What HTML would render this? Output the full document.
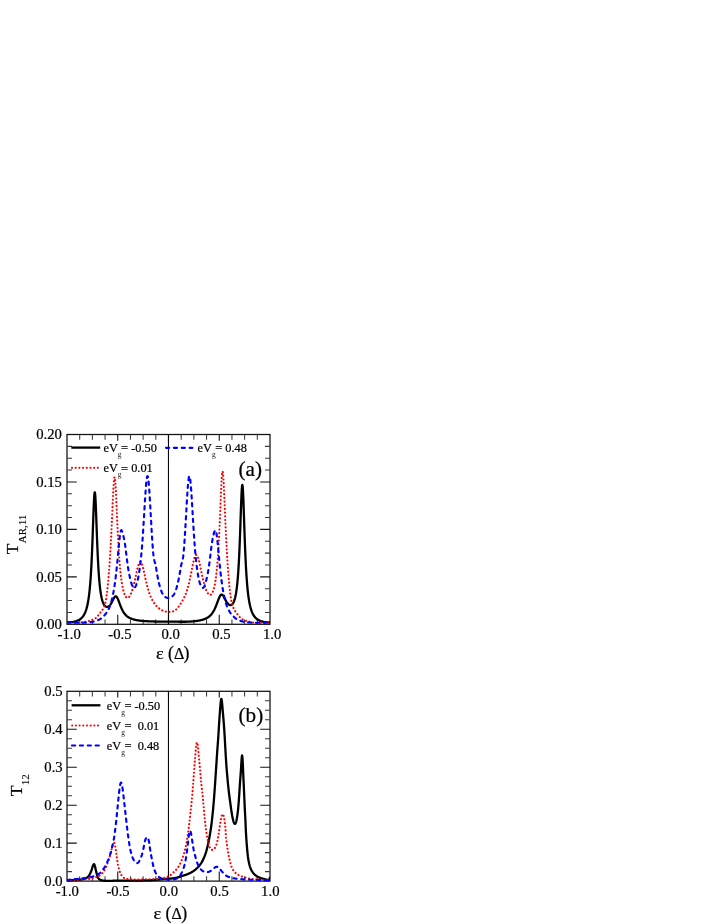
<!DOCTYPE html>
<html lang="en"><head><meta charset="utf-8"><title>Transmission plots</title>
<style>html,body{margin:0;padding:0;background:#fff;}body{width:714px;height:924px;overflow:hidden;font-family:"Liberation Serif",serif;}svg{display:block;will-change:transform;}svg text{stroke:#000;stroke-width:0.22px;}</style></head>
<body>
<svg width="714" height="924" viewBox="0 0 714 924" font-family='"Liberation Serif", serif' fill="#000">
<rect width="714" height="924" fill="#fff"/>
<defs><clipPath id="ca"><rect x="67.00" y="434.50" width="203.00" height="191.00"/></clipPath><clipPath id="cb"><rect x="67.00" y="691.30" width="203.00" height="191.00"/></clipPath></defs>
<!-- plot a -->
<rect x="67.00" y="434.50" width="203.00" height="189.80" fill="none" stroke="#111" stroke-width="1.25"/>
<path d="M79.69 624.30 V619.50 M79.69 434.50 V439.70 M92.38 624.30 V619.50 M92.38 434.50 V439.70 M105.06 624.30 V619.50 M105.06 434.50 V439.70 M130.44 624.30 V619.50 M130.44 434.50 V439.70 M143.12 624.30 V619.50 M143.12 434.50 V439.70 M155.81 624.30 V619.50 M155.81 434.50 V439.70 M181.19 624.30 V619.50 M181.19 434.50 V439.70 M193.88 624.30 V619.50 M193.88 434.50 V439.70 M206.56 624.30 V619.50 M206.56 434.50 V439.70 M231.94 624.30 V619.50 M231.94 434.50 V439.70 M244.62 624.30 V619.50 M244.62 434.50 V439.70 M257.31 624.30 V619.50 M257.31 434.50 V439.70 M67.00 612.44 H72.00 M270.00 612.44 H265.00 M67.00 600.57 H72.00 M270.00 600.57 H265.00 M67.00 588.71 H72.00 M270.00 588.71 H265.00 M67.00 564.99 H72.00 M270.00 564.99 H265.00 M67.00 553.12 H72.00 M270.00 553.12 H265.00 M67.00 541.26 H72.00 M270.00 541.26 H265.00 M67.00 517.54 H72.00 M270.00 517.54 H265.00 M67.00 505.67 H72.00 M270.00 505.67 H265.00 M67.00 493.81 H72.00 M270.00 493.81 H265.00 M67.00 470.09 H72.00 M270.00 470.09 H265.00 M67.00 458.23 H72.00 M270.00 458.23 H265.00 M67.00 446.36 H72.00 M270.00 446.36 H265.00" stroke="#3a3a3a" stroke-width="1.05" fill="none"/>
<path d="M117.75 624.30 V614.80 M117.75 434.50 V440.80 M168.50 624.30 V614.80 M168.50 434.50 V440.80 M219.25 624.30 V614.80 M219.25 434.50 V440.80 M67.00 576.85 H76.80 M270.00 576.85 H260.20 M67.00 529.40 H76.80 M270.00 529.40 H260.20 M67.00 481.95 H76.80 M270.00 481.95 H260.20" stroke="#141414" stroke-width="1.1" fill="none"/>
<path d="M168.45 434.50 V624.30" stroke="#000" stroke-width="1.05" fill="none"/>
<g clip-path="url(#ca)">
<path d="M67.00 622.37 L67.25 622.37 L67.51 622.38 L67.76 622.38 L68.02 622.38 L68.27 622.38 L68.52 622.37 L68.78 622.37 L69.03 622.36 L69.28 622.35 L69.54 622.34 L69.79 622.33 L70.05 622.31 L70.30 622.29 L70.55 622.27 L70.81 622.25 L71.06 622.22 L71.31 622.20 L71.57 622.17 L71.82 622.14 L72.08 622.10 L72.33 622.07 L72.58 622.03 L72.84 621.99 L73.09 621.94 L73.34 621.89 L73.60 621.84 L73.85 621.79 L74.11 621.74 L74.36 621.68 L74.61 621.61 L74.87 621.55 L75.12 621.48 L75.37 621.41 L75.63 621.33 L75.88 621.25 L76.13 621.17 L76.39 621.08 L76.64 620.99 L76.90 620.89 L77.15 620.79 L77.40 620.69 L77.66 620.57 L77.91 620.46 L78.16 620.34 L78.42 620.21 L78.67 620.07 L78.93 619.93 L79.18 619.79 L79.43 619.63 L79.69 619.47 L79.94 619.30 L80.19 619.12 L80.45 618.93 L80.70 618.73 L80.96 618.52 L81.21 618.30 L81.46 618.07 L81.72 617.82 L81.97 617.56 L82.22 617.28 L82.48 616.99 L82.73 616.67 L82.99 616.34 L83.24 615.99 L83.49 615.61 L83.75 615.21 L84.00 614.78 L84.25 614.33 L84.51 613.84 L84.76 613.32 L85.02 612.77 L85.27 612.18 L85.52 611.55 L85.78 610.87 L86.03 610.14 L86.28 609.36 L86.54 608.52 L86.79 607.61 L87.05 606.63 L87.30 605.56 L87.55 604.41 L87.81 603.16 L88.06 601.81 L88.31 600.33 L88.57 598.71 L88.82 596.94 L89.08 595.01 L89.33 592.89 L89.58 590.55 L89.84 587.99 L90.09 585.16 L90.34 582.04 L90.60 578.60 L90.85 574.80 L91.11 570.62 L91.36 566.01 L91.61 560.97 L91.87 555.46 L92.12 549.49 L92.38 543.08 L92.63 536.29 L92.88 529.22 L93.14 522.04 L93.39 514.96 L93.64 508.27 L93.90 502.32 L94.15 497.46 L94.41 494.05 L94.66 492.32 L94.91 492.43 L95.17 494.36 L95.42 497.94 L95.67 502.88 L95.93 508.85 L96.18 515.48 L96.44 522.44 L96.69 529.45 L96.94 536.30 L97.20 542.85 L97.45 549.00 L97.70 554.70 L97.96 559.93 L98.21 564.71 L98.47 569.04 L98.72 572.96 L98.97 576.49 L99.23 579.68 L99.48 582.55 L99.73 585.13 L99.99 587.45 L100.24 589.55 L100.50 591.43 L100.75 593.13 L101.00 594.66 L101.26 596.05 L101.51 597.29 L101.76 598.42 L102.02 599.44 L102.27 600.36 L102.53 601.19 L102.78 601.94 L103.03 602.61 L103.29 603.22 L103.54 603.76 L103.79 604.25 L104.05 604.69 L104.30 605.08 L104.56 605.42 L104.81 605.72 L105.06 605.98 L105.32 606.21 L105.57 606.40 L105.82 606.55 L106.08 606.68 L106.33 606.77 L106.59 606.84 L106.84 606.88 L107.09 606.89 L107.35 606.88 L107.60 606.84 L107.85 606.77 L108.11 606.68 L108.36 606.55 L108.62 606.40 L108.87 606.23 L109.12 606.02 L109.38 605.79 L109.63 605.53 L109.88 605.25 L110.14 604.93 L110.39 604.59 L110.64 604.22 L110.90 603.82 L111.15 603.40 L111.41 602.96 L111.66 602.50 L111.91 602.02 L112.17 601.52 L112.42 601.01 L112.67 600.50 L112.93 599.98 L113.18 599.47 L113.44 598.98 L113.69 598.50 L113.94 598.05 L114.20 597.64 L114.45 597.27 L114.70 596.96 L114.96 596.70 L115.21 596.52 L115.47 596.40 L115.72 596.36 L115.97 596.39 L116.23 596.51 L116.48 596.71 L116.73 596.98 L116.99 597.34 L117.24 597.75 L117.50 598.24 L117.75 598.77 L118.00 599.35 L118.26 599.97 L118.51 600.61 L118.77 601.28 L119.02 601.97 L119.27 602.66 L119.53 603.35 L119.78 604.03 L120.03 604.71 L120.29 605.38 L120.54 606.04 L120.80 606.67 L121.05 607.29 L121.30 607.88 L121.56 608.46 L121.81 609.01 L122.06 609.54 L122.32 610.05 L122.57 610.54 L122.83 611.01 L123.08 611.45 L123.33 611.88 L123.59 612.28 L123.84 612.67 L124.09 613.04 L124.35 613.39 L124.60 613.72 L124.86 614.04 L125.11 614.35 L125.36 614.63 L125.62 614.91 L125.87 615.17 L126.12 615.42 L126.38 615.66 L126.63 615.89 L126.88 616.11 L127.14 616.31 L127.39 616.51 L127.65 616.70 L127.90 616.88 L128.15 617.05 L128.41 617.22 L128.66 617.38 L128.91 617.53 L129.17 617.67 L129.42 617.81 L129.68 617.94 L129.93 618.07 L130.18 618.19 L130.44 618.31 L130.69 618.42 L130.94 618.53 L131.20 618.64 L131.45 618.74 L131.71 618.83 L131.96 618.92 L132.21 619.01 L132.47 619.10 L132.72 619.18 L132.98 619.26 L133.23 619.33 L133.48 619.41 L133.74 619.48 L133.99 619.55 L134.24 619.61 L134.50 619.68 L134.75 619.74 L135.00 619.80 L135.26 619.85 L135.51 619.91 L135.77 619.96 L136.02 620.01 L136.27 620.06 L136.53 620.11 L136.78 620.16 L137.04 620.20 L137.29 620.25 L137.54 620.29 L137.80 620.33 L138.05 620.37 L138.30 620.41 L138.56 620.45 L138.81 620.48 L139.06 620.52 L139.32 620.55 L139.57 620.59 L139.83 620.62 L140.08 620.65 L140.33 620.68 L140.59 620.71 L140.84 620.74 L141.09 620.76 L141.35 620.79 L141.60 620.82 L141.86 620.84 L142.11 620.86 L142.36 620.89 L142.62 620.91 L142.87 620.93 L143.12 620.96 L143.38 620.98 L143.63 621.00 L143.89 621.02 L144.14 621.04 L144.39 621.05 L144.65 621.07 L144.90 621.09 L145.16 621.11 L145.41 621.12 L145.66 621.14 L145.92 621.16 L146.17 621.17 L146.42 621.19 L146.68 621.20 L146.93 621.22 L147.19 621.23 L147.44 621.24 L147.69 621.26 L147.95 621.27 L148.20 621.28 L148.45 621.29 L148.71 621.31 L148.96 621.32 L149.22 621.33 L149.47 621.34 L149.72 621.35 L149.98 621.36 L150.23 621.37 L150.48 621.38 L150.74 621.39 L150.99 621.40 L151.25 621.40 L151.50 621.41 L151.75 621.42 L152.01 621.43 L152.26 621.44 L152.51 621.44 L152.77 621.45 L153.02 621.46 L153.27 621.47 L153.53 621.47 L153.78 621.48 L154.04 621.49 L154.29 621.49 L154.54 621.50 L154.80 621.50 L155.05 621.51 L155.31 621.51 L155.56 621.52 L155.81 621.52 L156.07 621.53 L156.32 621.53 L156.57 621.54 L156.83 621.54 L157.08 621.55 L157.34 621.55 L157.59 621.55 L157.84 621.56 L158.10 621.56 L158.35 621.57 L158.60 621.57 L158.86 621.57 L159.11 621.58 L159.37 621.58 L159.62 621.58 L159.87 621.58 L160.13 621.59 L160.38 621.59 L160.63 621.59 L160.89 621.59 L161.14 621.60 L161.40 621.60 L161.65 621.60 L161.90 621.60 L162.16 621.60 L162.41 621.60 L162.66 621.61 L162.92 621.61 L163.17 621.61 L163.43 621.61 L163.68 621.61 L163.93 621.61 L164.19 621.61 L164.44 621.61 L164.69 621.61 L164.95 621.61 L165.20 621.61 L165.45 621.61 L165.71 621.61 L165.96 621.61 L166.22 621.61 L166.47 621.61 L166.72 621.61 L166.98 621.61 L167.23 621.61 L167.49 621.61 L167.74 621.61 L167.99 621.61 L168.25 621.61 L168.50 621.61 L168.75 621.61 L169.01 621.61 L169.26 621.61 L169.51 621.61 L169.77 621.61 L170.02 621.61 L170.28 621.61 L170.53 621.61 L170.78 621.61 L171.04 621.62 L171.29 621.62 L171.55 621.62 L171.80 621.62 L172.05 621.63 L172.31 621.63 L172.56 621.63 L172.81 621.63 L173.07 621.64 L173.32 621.64 L173.57 621.64 L173.83 621.65 L174.08 621.65 L174.34 621.66 L174.59 621.66 L174.84 621.66 L175.10 621.67 L175.35 621.67 L175.61 621.68 L175.86 621.68 L176.11 621.69 L176.37 621.69 L176.62 621.69 L176.87 621.70 L177.13 621.70 L177.38 621.71 L177.63 621.71 L177.89 621.71 L178.14 621.72 L178.40 621.72 L178.65 621.73 L178.90 621.73 L179.16 621.73 L179.41 621.74 L179.67 621.74 L179.92 621.74 L180.17 621.75 L180.43 621.75 L180.68 621.75 L180.93 621.75 L181.19 621.76 L181.44 621.76 L181.69 621.76 L181.95 621.76 L182.20 621.76 L182.46 621.76 L182.71 621.76 L182.96 621.76 L183.22 621.76 L183.47 621.76 L183.73 621.76 L183.98 621.76 L184.23 621.76 L184.49 621.76 L184.74 621.75 L184.99 621.75 L185.25 621.75 L185.50 621.74 L185.75 621.74 L186.01 621.73 L186.26 621.73 L186.52 621.72 L186.77 621.71 L187.02 621.71 L187.28 621.70 L187.53 621.69 L187.78 621.68 L188.04 621.67 L188.29 621.66 L188.55 621.65 L188.80 621.64 L189.05 621.62 L189.31 621.61 L189.56 621.60 L189.81 621.58 L190.07 621.57 L190.32 621.55 L190.58 621.54 L190.83 621.52 L191.08 621.50 L191.34 621.48 L191.59 621.47 L191.84 621.45 L192.10 621.43 L192.35 621.41 L192.61 621.39 L192.86 621.37 L193.11 621.35 L193.37 621.32 L193.62 621.30 L193.88 621.28 L194.13 621.25 L194.38 621.23 L194.64 621.20 L194.89 621.17 L195.14 621.15 L195.40 621.12 L195.65 621.09 L195.91 621.06 L196.16 621.03 L196.41 620.99 L196.67 620.96 L196.92 620.92 L197.17 620.89 L197.43 620.85 L197.68 620.81 L197.94 620.77 L198.19 620.73 L198.44 620.69 L198.70 620.65 L198.95 620.60 L199.20 620.56 L199.46 620.51 L199.71 620.46 L199.97 620.41 L200.22 620.35 L200.47 620.30 L200.73 620.24 L200.98 620.18 L201.23 620.12 L201.49 620.06 L201.74 619.99 L202.00 619.92 L202.25 619.85 L202.50 619.78 L202.76 619.71 L203.01 619.63 L203.26 619.55 L203.52 619.46 L203.77 619.38 L204.03 619.29 L204.28 619.19 L204.53 619.09 L204.79 618.99 L205.04 618.89 L205.29 618.78 L205.55 618.67 L205.80 618.55 L206.06 618.43 L206.31 618.30 L206.56 618.17 L206.82 618.03 L207.07 617.89 L207.32 617.74 L207.58 617.58 L207.83 617.42 L208.09 617.25 L208.34 617.07 L208.59 616.89 L208.85 616.70 L209.10 616.50 L209.35 616.29 L209.61 616.07 L209.86 615.85 L210.11 615.61 L210.37 615.36 L210.62 615.10 L210.88 614.83 L211.13 614.55 L211.38 614.25 L211.64 613.94 L211.89 613.62 L212.14 613.28 L212.40 612.93 L212.65 612.56 L212.91 612.18 L213.16 611.77 L213.41 611.35 L213.67 610.92 L213.92 610.46 L214.17 609.98 L214.43 609.49 L214.68 608.97 L214.94 608.44 L215.19 607.88 L215.44 607.31 L215.70 606.71 L215.95 606.10 L216.20 605.47 L216.46 604.82 L216.71 604.16 L216.97 603.48 L217.22 602.80 L217.47 602.11 L217.73 601.42 L217.98 600.73 L218.23 600.05 L218.49 599.38 L218.74 598.72 L219.00 598.10 L219.25 597.50 L219.50 596.94 L219.76 596.43 L220.01 595.97 L220.27 595.56 L220.52 595.22 L220.77 594.94 L221.03 594.74 L221.28 594.61 L221.53 594.55 L221.79 594.56 L222.04 594.64 L222.30 594.78 L222.55 594.99 L222.80 595.25 L223.06 595.57 L223.31 595.93 L223.56 596.32 L223.82 596.75 L224.07 597.21 L224.33 597.68 L224.58 598.16 L224.83 598.66 L225.09 599.15 L225.34 599.63 L225.59 600.11 L225.85 600.58 L226.10 601.04 L226.36 601.47 L226.61 601.89 L226.86 602.28 L227.12 602.66 L227.37 603.00 L227.62 603.33 L227.88 603.62 L228.13 603.90 L228.39 604.14 L228.64 604.36 L228.89 604.55 L229.15 604.72 L229.40 604.85 L229.65 604.96 L229.91 605.05 L230.16 605.10 L230.42 605.12 L230.67 605.12 L230.92 605.07 L231.18 605.00 L231.43 604.89 L231.68 604.74 L231.94 604.56 L232.19 604.33 L232.45 604.06 L232.70 603.75 L232.95 603.38 L233.21 602.97 L233.46 602.50 L233.71 601.97 L233.97 601.37 L234.22 600.71 L234.48 599.97 L234.73 599.14 L234.98 598.22 L235.24 597.20 L235.49 596.07 L235.74 594.82 L236.00 593.42 L236.25 591.88 L236.50 590.17 L236.76 588.27 L237.01 586.16 L237.27 583.81 L237.52 581.21 L237.77 578.31 L238.03 575.10 L238.28 571.53 L238.53 567.57 L238.79 563.18 L239.04 558.35 L239.30 553.03 L239.55 547.23 L239.80 540.94 L240.06 534.21 L240.31 527.11 L240.56 519.78 L240.82 512.40 L241.07 505.25 L241.33 498.65 L241.58 492.97 L241.83 488.60 L242.09 485.85 L242.34 484.96 L242.59 486.02 L242.85 488.93 L243.10 493.48 L243.36 499.33 L243.61 506.10 L243.86 513.43 L244.12 520.98 L244.37 528.50 L244.62 535.78 L244.88 542.70 L245.13 549.18 L245.39 555.18 L245.64 560.69 L245.89 565.72 L246.15 570.30 L246.40 574.47 L246.66 578.24 L246.91 581.67 L247.16 584.77 L247.42 587.59 L247.67 590.15 L247.92 592.48 L248.18 594.60 L248.43 596.54 L248.69 598.31 L248.94 599.94 L249.19 601.43 L249.45 602.80 L249.70 604.06 L249.95 605.22 L250.21 606.30 L250.46 607.30 L250.72 608.22 L250.97 609.08 L251.22 609.88 L251.48 610.62 L251.73 611.32 L251.98 611.96 L252.24 612.57 L252.49 613.14 L252.75 613.67 L253.00 614.17 L253.25 614.64 L253.51 615.08 L253.76 615.49 L254.01 615.88 L254.27 616.24 L254.52 616.59 L254.78 616.91 L255.03 617.21 L255.28 617.50 L255.54 617.77 L255.79 618.02 L256.04 618.26 L256.30 618.48 L256.55 618.70 L256.81 618.90 L257.06 619.10 L257.31 619.28 L257.57 619.46 L257.82 619.63 L258.07 619.79 L258.33 619.94 L258.58 620.08 L258.84 620.22 L259.09 620.35 L259.34 620.48 L259.60 620.60 L259.85 620.72 L260.10 620.83 L260.36 620.93 L260.61 621.03 L260.87 621.12 L261.12 621.21 L261.37 621.30 L261.63 621.38 L261.88 621.46 L262.13 621.53 L262.39 621.60 L262.64 621.67 L262.89 621.73 L263.15 621.79 L263.40 621.85 L263.66 621.90 L263.91 621.95 L264.16 622.00 L264.42 622.04 L264.67 622.09 L264.92 622.12 L265.18 622.16 L265.43 622.19 L265.69 622.22 L265.94 622.25 L266.19 622.28 L266.45 622.30 L266.70 622.32 L266.95 622.34 L267.21 622.35 L267.46 622.36 L267.72 622.37 L267.97 622.38 L268.22 622.39 L268.48 622.39 L268.73 622.39 L268.99 622.39 L269.24 622.39 L269.49 622.38 L269.75 622.38 L270.00 622.37" stroke="#000" stroke-width="2.3" fill="none" stroke-linejoin="round"/>
<path d="M67.00 622.40 L67.25 622.43 L67.51 622.46 L67.76 622.49 L68.02 622.51 L68.27 622.53 L68.52 622.56 L68.78 622.58 L69.03 622.60 L69.28 622.62 L69.54 622.64 L69.79 622.66 L70.05 622.67 L70.30 622.69 L70.55 622.71 L70.81 622.72 L71.06 622.73 L71.31 622.75 L71.57 622.76 L71.82 622.77 L72.08 622.78 L72.33 622.79 L72.58 622.79 L72.84 622.80 L73.09 622.81 L73.34 622.81 L73.60 622.81 L73.85 622.82 L74.11 622.82 L74.36 622.82 L74.61 622.82 L74.87 622.82 L75.12 622.82 L75.37 622.82 L75.63 622.81 L75.88 622.81 L76.13 622.80 L76.39 622.79 L76.64 622.79 L76.90 622.78 L77.15 622.77 L77.40 622.76 L77.66 622.75 L77.91 622.73 L78.16 622.72 L78.42 622.71 L78.67 622.69 L78.93 622.67 L79.18 622.66 L79.43 622.64 L79.69 622.62 L79.94 622.60 L80.19 622.58 L80.45 622.55 L80.70 622.53 L80.96 622.51 L81.21 622.48 L81.46 622.45 L81.72 622.42 L81.97 622.39 L82.22 622.36 L82.48 622.33 L82.73 622.30 L82.99 622.27 L83.24 622.23 L83.49 622.19 L83.75 622.16 L84.00 622.12 L84.25 622.08 L84.51 622.04 L84.76 621.99 L85.02 621.95 L85.27 621.90 L85.52 621.86 L85.78 621.81 L86.03 621.76 L86.28 621.71 L86.54 621.65 L86.79 621.60 L87.05 621.54 L87.30 621.48 L87.55 621.42 L87.81 621.36 L88.06 621.30 L88.31 621.23 L88.57 621.17 L88.82 621.10 L89.08 621.03 L89.33 620.95 L89.58 620.88 L89.84 620.80 L90.09 620.72 L90.34 620.64 L90.60 620.55 L90.85 620.47 L91.11 620.38 L91.36 620.29 L91.61 620.19 L91.87 620.09 L92.12 619.99 L92.38 619.89 L92.63 619.78 L92.88 619.67 L93.14 619.55 L93.39 619.44 L93.64 619.32 L93.90 619.19 L94.15 619.06 L94.41 618.93 L94.66 618.79 L94.91 618.64 L95.17 618.49 L95.42 618.32 L95.67 618.13 L95.93 617.93 L96.18 617.70 L96.44 617.46 L96.69 617.21 L96.94 616.94 L97.20 616.66 L97.45 616.38 L97.70 616.08 L97.96 615.77 L98.21 615.46 L98.47 615.15 L98.72 614.82 L98.97 614.50 L99.23 614.17 L99.48 613.84 L99.73 613.51 L99.99 613.18 L100.24 612.85 L100.50 612.53 L100.75 612.21 L101.00 611.89 L101.26 611.57 L101.51 611.24 L101.76 610.90 L102.02 610.55 L102.27 610.18 L102.53 609.79 L102.78 609.38 L103.03 608.94 L103.29 608.46 L103.54 607.94 L103.79 607.38 L104.05 606.77 L104.30 606.11 L104.56 605.39 L104.81 604.60 L105.06 603.74 L105.32 602.80 L105.57 601.75 L105.82 600.52 L106.08 599.13 L106.33 597.56 L106.59 595.83 L106.84 593.94 L107.09 591.90 L107.35 589.69 L107.60 587.34 L107.85 584.83 L108.11 582.17 L108.36 579.35 L108.62 576.38 L108.87 573.23 L109.12 569.92 L109.38 566.44 L109.63 562.77 L109.88 558.91 L110.14 554.86 L110.39 550.61 L110.64 546.17 L110.90 541.54 L111.15 536.70 L111.41 531.64 L111.66 526.36 L111.91 520.89 L112.17 515.26 L112.42 509.54 L112.67 503.84 L112.93 498.28 L113.18 493.00 L113.44 488.20 L113.69 484.06 L113.94 480.75 L114.20 478.42 L114.45 477.20 L114.70 477.14 L114.96 478.29 L115.21 480.59 L115.47 483.92 L115.72 488.13 L115.97 493.01 L116.23 498.38 L116.48 504.04 L116.73 509.85 L116.99 515.66 L117.24 521.36 L117.50 526.89 L117.75 532.19 L118.00 537.23 L118.26 542.01 L118.51 546.51 L118.77 550.76 L119.02 554.73 L119.27 558.41 L119.53 561.81 L119.78 564.95 L120.03 567.85 L120.29 570.53 L120.54 573.01 L120.80 575.29 L121.05 577.39 L121.30 579.34 L121.56 581.13 L121.81 582.79 L122.06 584.32 L122.32 585.74 L122.57 587.04 L122.83 588.25 L123.08 589.36 L123.33 590.39 L123.59 591.33 L123.84 592.20 L124.09 592.99 L124.35 593.72 L124.60 594.37 L124.86 594.97 L125.11 595.51 L125.36 595.99 L125.62 596.41 L125.87 596.78 L126.12 597.09 L126.38 597.35 L126.63 597.56 L126.88 597.72 L127.14 597.83 L127.39 597.89 L127.65 597.90 L127.90 597.86 L128.15 597.76 L128.41 597.62 L128.66 597.43 L128.91 597.18 L129.17 596.89 L129.42 596.56 L129.68 596.19 L129.93 595.78 L130.18 595.33 L130.44 594.84 L130.69 594.31 L130.94 593.74 L131.20 593.12 L131.45 592.47 L131.71 591.78 L131.96 591.05 L132.21 590.28 L132.47 589.47 L132.72 588.62 L132.98 587.73 L133.23 586.81 L133.48 585.86 L133.74 584.86 L133.99 583.84 L134.24 582.79 L134.50 581.71 L134.75 580.60 L135.00 579.47 L135.26 578.33 L135.51 577.17 L135.77 576.00 L136.02 574.83 L136.27 573.66 L136.53 572.50 L136.78 571.36 L137.04 570.25 L137.29 569.16 L137.54 568.12 L137.80 567.13 L138.05 566.20 L138.30 565.33 L138.56 564.54 L138.81 563.84 L139.06 563.23 L139.32 562.72 L139.57 562.32 L139.83 562.03 L140.08 561.85 L140.33 561.79 L140.59 561.85 L140.84 562.02 L141.09 562.31 L141.35 562.71 L141.60 563.21 L141.86 563.81 L142.11 564.51 L142.36 565.29 L142.62 566.15 L142.87 567.08 L143.12 568.06 L143.38 569.10 L143.63 570.19 L143.89 571.31 L144.14 572.45 L144.39 573.61 L144.65 574.79 L144.90 575.97 L145.16 577.15 L145.41 578.33 L145.66 579.49 L145.92 580.64 L146.17 581.77 L146.42 582.88 L146.68 583.96 L146.93 585.02 L147.19 586.05 L147.44 587.04 L147.69 587.99 L147.95 588.91 L148.20 589.79 L148.45 590.63 L148.71 591.44 L148.96 592.22 L149.22 592.96 L149.47 593.68 L149.72 594.36 L149.98 595.01 L150.23 595.64 L150.48 596.24 L150.74 596.81 L150.99 597.36 L151.25 597.90 L151.50 598.41 L151.75 598.90 L152.01 599.37 L152.26 599.84 L152.51 600.28 L152.77 600.72 L153.02 601.14 L153.27 601.55 L153.53 601.96 L153.78 602.36 L154.04 602.76 L154.29 603.14 L154.54 603.51 L154.80 603.86 L155.05 604.21 L155.31 604.54 L155.56 604.87 L155.81 605.18 L156.07 605.48 L156.32 605.77 L156.57 606.06 L156.83 606.33 L157.08 606.60 L157.34 606.86 L157.59 607.10 L157.84 607.35 L158.10 607.58 L158.35 607.80 L158.60 608.02 L158.86 608.23 L159.11 608.44 L159.37 608.63 L159.62 608.82 L159.87 609.01 L160.13 609.19 L160.38 609.36 L160.63 609.52 L160.89 609.68 L161.14 609.83 L161.40 609.98 L161.65 610.12 L161.90 610.25 L162.16 610.38 L162.41 610.50 L162.66 610.62 L162.92 610.73 L163.17 610.83 L163.43 610.93 L163.68 611.02 L163.93 611.11 L164.19 611.19 L164.44 611.27 L164.69 611.34 L164.95 611.40 L165.20 611.46 L165.45 611.52 L165.71 611.57 L165.96 611.62 L166.22 611.66 L166.47 611.70 L166.72 611.73 L166.98 611.76 L167.23 611.79 L167.49 611.82 L167.74 611.84 L167.99 611.85 L168.25 611.87 L168.50 611.88 L168.75 611.88 L169.01 611.89 L169.26 611.90 L169.51 611.90 L169.77 611.91 L170.02 611.91 L170.28 611.90 L170.53 611.90 L170.78 611.88 L171.04 611.87 L171.29 611.84 L171.55 611.81 L171.80 611.78 L172.05 611.74 L172.31 611.68 L172.56 611.62 L172.81 611.55 L173.07 611.47 L173.32 611.38 L173.57 611.28 L173.83 611.17 L174.08 611.04 L174.34 610.90 L174.59 610.74 L174.84 610.57 L175.10 610.39 L175.35 610.19 L175.61 609.98 L175.86 609.76 L176.11 609.53 L176.37 609.29 L176.62 609.03 L176.87 608.77 L177.13 608.49 L177.38 608.21 L177.63 607.91 L177.89 607.61 L178.14 607.29 L178.40 606.97 L178.65 606.63 L178.90 606.29 L179.16 605.94 L179.41 605.58 L179.67 605.22 L179.92 604.84 L180.17 604.46 L180.43 604.07 L180.68 603.67 L180.93 603.27 L181.19 602.85 L181.44 602.43 L181.69 602.01 L181.95 601.57 L182.20 601.13 L182.46 600.68 L182.71 600.22 L182.96 599.76 L183.22 599.30 L183.47 598.83 L183.73 598.35 L183.98 597.86 L184.23 597.35 L184.49 596.83 L184.74 596.30 L184.99 595.74 L185.25 595.17 L185.50 594.57 L185.75 593.95 L186.01 593.30 L186.26 592.62 L186.52 591.92 L186.77 591.18 L187.02 590.41 L187.28 589.60 L187.53 588.76 L187.78 587.87 L188.04 586.95 L188.29 585.99 L188.55 584.99 L188.80 583.95 L189.05 582.86 L189.31 581.73 L189.56 580.57 L189.81 579.38 L190.07 578.16 L190.32 576.93 L190.58 575.67 L190.83 574.40 L191.08 573.12 L191.34 571.83 L191.59 570.54 L191.84 569.25 L192.10 567.97 L192.35 566.71 L192.61 565.47 L192.86 564.26 L193.11 563.09 L193.37 561.96 L193.62 560.89 L193.88 559.89 L194.13 558.95 L194.38 558.10 L194.64 557.33 L194.89 556.66 L195.14 556.08 L195.40 555.62 L195.65 555.27 L195.91 555.03 L196.16 554.90 L196.41 554.90 L196.67 555.01 L196.92 555.25 L197.17 555.59 L197.43 556.05 L197.68 556.61 L197.94 557.26 L198.19 558.01 L198.44 558.84 L198.70 559.75 L198.95 560.73 L199.20 561.76 L199.46 562.84 L199.71 563.97 L199.97 565.13 L200.22 566.31 L200.47 567.51 L200.73 568.72 L200.98 569.94 L201.23 571.16 L201.49 572.37 L201.74 573.56 L202.00 574.75 L202.25 575.91 L202.50 577.05 L202.76 578.17 L203.01 579.25 L203.26 580.31 L203.52 581.33 L203.77 582.33 L204.03 583.28 L204.28 584.20 L204.53 585.09 L204.79 585.94 L205.04 586.75 L205.29 587.52 L205.55 588.26 L205.80 588.96 L206.06 589.62 L206.31 590.25 L206.56 590.83 L206.82 591.38 L207.07 591.89 L207.32 592.36 L207.58 592.80 L207.83 593.20 L208.09 593.55 L208.34 593.88 L208.59 594.16 L208.85 594.40 L209.10 594.61 L209.35 594.77 L209.61 594.88 L209.86 594.95 L210.11 594.96 L210.37 594.92 L210.62 594.83 L210.88 594.69 L211.13 594.50 L211.38 594.26 L211.64 593.95 L211.89 593.60 L212.14 593.18 L212.40 592.71 L212.65 592.17 L212.91 591.57 L213.16 590.89 L213.41 590.15 L213.67 589.33 L213.92 588.43 L214.17 587.44 L214.43 586.35 L214.68 585.17 L214.94 583.88 L215.19 582.47 L215.44 580.94 L215.70 579.27 L215.95 577.45 L216.20 575.47 L216.46 573.31 L216.71 570.96 L216.97 568.41 L217.22 565.62 L217.47 562.59 L217.73 559.29 L217.98 555.71 L218.23 551.82 L218.49 547.60 L218.74 543.08 L219.00 538.28 L219.25 533.18 L219.50 527.79 L219.76 522.11 L220.01 516.19 L220.27 510.08 L220.52 503.88 L220.77 497.71 L221.03 491.74 L221.28 486.16 L221.53 481.18 L221.79 477.02 L222.04 473.90 L222.30 471.97 L222.55 471.35 L222.80 472.04 L223.06 473.97 L223.31 477.05 L223.56 481.12 L223.82 485.99 L224.07 491.45 L224.33 497.30 L224.58 503.34 L224.83 509.43 L225.09 515.45 L225.34 521.32 L225.59 526.97 L225.85 532.39 L226.10 537.56 L226.36 542.51 L226.61 547.24 L226.86 551.77 L227.12 556.07 L227.37 560.16 L227.62 564.04 L227.88 567.71 L228.13 571.19 L228.39 574.49 L228.64 577.62 L228.89 580.57 L229.15 583.36 L229.40 585.98 L229.65 588.45 L229.91 590.75 L230.16 592.90 L230.42 594.89 L230.67 596.72 L230.92 598.38 L231.18 599.87 L231.43 601.18 L231.68 602.32 L231.94 603.30 L232.19 604.22 L232.45 605.06 L232.70 605.85 L232.95 606.58 L233.21 607.26 L233.46 607.90 L233.71 608.49 L233.97 609.05 L234.22 609.56 L234.48 610.05 L234.73 610.51 L234.98 610.94 L235.24 611.34 L235.49 611.72 L235.74 612.09 L236.00 612.44 L236.25 612.77 L236.50 613.09 L236.76 613.40 L237.01 613.70 L237.27 613.99 L237.52 614.28 L237.77 614.56 L238.03 614.85 L238.28 615.15 L238.53 615.47 L238.79 615.80 L239.04 616.13 L239.30 616.47 L239.55 616.79 L239.80 617.12 L240.06 617.42 L240.31 617.72 L240.56 617.99 L240.82 618.23 L241.07 618.44 L241.33 618.62 L241.58 618.78 L241.83 618.94 L242.09 619.09 L242.34 619.23 L242.59 619.38 L242.85 619.51 L243.10 619.64 L243.36 619.77 L243.61 619.90 L243.86 620.02 L244.12 620.13 L244.37 620.25 L244.62 620.36 L244.88 620.46 L245.13 620.56 L245.39 620.66 L245.64 620.76 L245.89 620.85 L246.15 620.95 L246.40 621.03 L246.66 621.12 L246.91 621.20 L247.16 621.28 L247.42 621.36 L247.67 621.44 L247.92 621.51 L248.18 621.58 L248.43 621.65 L248.69 621.72 L248.94 621.78 L249.19 621.85 L249.45 621.91 L249.70 621.97 L249.95 622.03 L250.21 622.08 L250.46 622.14 L250.72 622.19 L250.97 622.24 L251.22 622.29 L251.48 622.34 L251.73 622.38 L251.98 622.43 L252.24 622.47 L252.49 622.51 L252.75 622.55 L253.00 622.59 L253.25 622.63 L253.51 622.66 L253.76 622.70 L254.01 622.73 L254.27 622.76 L254.52 622.79 L254.78 622.82 L255.03 622.85 L255.28 622.87 L255.54 622.90 L255.79 622.92 L256.04 622.94 L256.30 622.96 L256.55 622.98 L256.81 623.00 L257.06 623.02 L257.31 623.04 L257.57 623.05 L257.82 623.06 L258.07 623.08 L258.33 623.09 L258.58 623.10 L258.84 623.11 L259.09 623.11 L259.34 623.12 L259.60 623.13 L259.85 623.13 L260.10 623.13 L260.36 623.13 L260.61 623.14 L260.87 623.13 L261.12 623.13 L261.37 623.13 L261.63 623.13 L261.88 623.12 L262.13 623.11 L262.39 623.11 L262.64 623.10 L262.89 623.09 L263.15 623.08 L263.40 623.06 L263.66 623.05 L263.91 623.04 L264.16 623.02 L264.42 623.00 L264.67 622.98 L264.92 622.96 L265.18 622.94 L265.43 622.92 L265.69 622.90 L265.94 622.87 L266.19 622.85 L266.45 622.82 L266.70 622.80 L266.95 622.77 L267.21 622.74 L267.46 622.70 L267.72 622.67 L267.97 622.64 L268.22 622.60 L268.48 622.57 L268.73 622.53 L268.99 622.49 L269.24 622.45 L269.49 622.41 L269.75 622.37 L270.00 622.32" stroke="#ff0000" stroke-width="2.15" fill="none" stroke-dasharray="0.01 3.68" stroke-linecap="round" stroke-linejoin="round"/>
<path d="M67.00 622.28 L67.25 622.30 L67.51 622.32 L67.76 622.34 L68.02 622.36 L68.27 622.37 L68.52 622.39 L68.78 622.41 L69.03 622.43 L69.28 622.44 L69.54 622.46 L69.79 622.48 L70.05 622.49 L70.30 622.51 L70.55 622.52 L70.81 622.54 L71.06 622.55 L71.31 622.57 L71.57 622.58 L71.82 622.60 L72.08 622.61 L72.33 622.62 L72.58 622.63 L72.84 622.65 L73.09 622.66 L73.34 622.67 L73.60 622.68 L73.85 622.69 L74.11 622.70 L74.36 622.71 L74.61 622.72 L74.87 622.73 L75.12 622.73 L75.37 622.74 L75.63 622.75 L75.88 622.76 L76.13 622.76 L76.39 622.77 L76.64 622.77 L76.90 622.78 L77.15 622.78 L77.40 622.78 L77.66 622.79 L77.91 622.79 L78.16 622.79 L78.42 622.79 L78.67 622.79 L78.93 622.79 L79.18 622.79 L79.43 622.79 L79.69 622.79 L79.94 622.79 L80.19 622.79 L80.45 622.78 L80.70 622.78 L80.96 622.77 L81.21 622.77 L81.46 622.76 L81.72 622.75 L81.97 622.75 L82.22 622.74 L82.48 622.73 L82.73 622.72 L82.99 622.71 L83.24 622.70 L83.49 622.69 L83.75 622.68 L84.00 622.67 L84.25 622.66 L84.51 622.65 L84.76 622.64 L85.02 622.62 L85.27 622.61 L85.52 622.60 L85.78 622.58 L86.03 622.57 L86.28 622.55 L86.54 622.54 L86.79 622.52 L87.05 622.50 L87.30 622.48 L87.55 622.46 L87.81 622.44 L88.06 622.42 L88.31 622.40 L88.57 622.37 L88.82 622.35 L89.08 622.32 L89.33 622.30 L89.58 622.27 L89.84 622.24 L90.09 622.21 L90.34 622.17 L90.60 622.14 L90.85 622.10 L91.11 622.06 L91.36 622.03 L91.61 621.98 L91.87 621.94 L92.12 621.90 L92.38 621.85 L92.63 621.80 L92.88 621.75 L93.14 621.70 L93.39 621.64 L93.64 621.59 L93.90 621.53 L94.15 621.47 L94.41 621.40 L94.66 621.34 L94.91 621.27 L95.17 621.20 L95.42 621.12 L95.67 621.04 L95.93 620.96 L96.18 620.88 L96.44 620.79 L96.69 620.70 L96.94 620.61 L97.20 620.51 L97.45 620.41 L97.70 620.30 L97.96 620.20 L98.21 620.08 L98.47 619.97 L98.72 619.85 L98.97 619.72 L99.23 619.59 L99.48 619.45 L99.73 619.30 L99.99 619.15 L100.24 618.99 L100.50 618.82 L100.75 618.65 L101.00 618.47 L101.26 618.28 L101.51 618.09 L101.76 617.89 L102.02 617.68 L102.27 617.46 L102.53 617.24 L102.78 617.01 L103.03 616.78 L103.29 616.53 L103.54 616.28 L103.79 616.03 L104.05 615.76 L104.30 615.49 L104.56 615.20 L104.81 614.92 L105.06 614.62 L105.32 614.31 L105.57 613.99 L105.82 613.66 L106.08 613.32 L106.33 612.97 L106.59 612.60 L106.84 612.22 L107.09 611.82 L107.35 611.41 L107.60 610.98 L107.85 610.53 L108.11 610.06 L108.36 609.57 L108.62 609.06 L108.87 608.52 L109.12 607.96 L109.38 607.37 L109.63 606.76 L109.88 606.11 L110.14 605.43 L110.39 604.72 L110.64 603.97 L110.90 603.18 L111.15 602.35 L111.41 601.47 L111.66 600.53 L111.91 599.54 L112.17 598.49 L112.42 597.38 L112.67 596.21 L112.93 594.99 L113.18 593.70 L113.44 592.34 L113.69 590.92 L113.94 589.43 L114.20 587.87 L114.45 586.24 L114.70 584.54 L114.96 582.76 L115.21 580.89 L115.47 578.95 L115.72 576.91 L115.97 574.78 L116.23 572.56 L116.48 570.24 L116.73 567.83 L116.99 565.33 L117.24 562.75 L117.50 560.09 L117.75 557.37 L118.00 554.61 L118.26 551.84 L118.51 549.07 L118.77 546.34 L119.02 543.68 L119.27 541.15 L119.53 538.77 L119.78 536.61 L120.03 534.69 L120.29 533.07 L120.54 531.78 L120.80 530.85 L121.05 530.31 L121.30 530.16 L121.56 530.40 L121.81 530.82 L122.06 531.35 L122.32 531.99 L122.57 532.74 L122.83 533.59 L123.08 534.53 L123.33 535.56 L123.59 536.67 L123.84 537.85 L124.09 539.10 L124.35 540.42 L124.60 541.83 L124.86 543.32 L125.11 544.93 L125.36 546.67 L125.62 548.56 L125.87 550.64 L126.12 552.81 L126.38 554.95 L126.63 557.04 L126.88 559.09 L127.14 561.07 L127.39 562.98 L127.65 564.83 L127.90 566.60 L128.15 568.28 L128.41 569.88 L128.66 571.38 L128.91 572.79 L129.17 574.10 L129.42 575.31 L129.68 576.47 L129.93 577.59 L130.18 578.68 L130.44 579.72 L130.69 580.72 L130.94 581.68 L131.20 582.58 L131.45 583.43 L131.71 584.22 L131.96 584.95 L132.21 585.61 L132.47 586.20 L132.72 586.72 L132.98 587.15 L133.23 587.50 L133.48 587.76 L133.74 587.93 L133.99 587.99 L134.24 587.94 L134.50 587.78 L134.75 587.53 L135.00 587.23 L135.26 586.86 L135.51 586.44 L135.77 585.95 L136.02 585.41 L136.27 584.79 L136.53 584.11 L136.78 583.36 L137.04 582.54 L137.29 581.65 L137.54 580.67 L137.80 579.61 L138.05 578.47 L138.30 577.25 L138.56 575.92 L138.81 574.51 L139.06 572.99 L139.32 571.37 L139.57 569.65 L139.83 567.81 L140.08 565.85 L140.33 563.78 L140.59 561.58 L140.84 559.25 L141.09 556.80 L141.35 554.21 L141.60 551.49 L141.86 548.62 L142.11 545.54 L142.36 542.24 L142.62 538.72 L142.87 535.01 L143.12 531.14 L143.38 527.11 L143.63 522.97 L143.89 518.74 L144.14 514.46 L144.39 510.16 L144.65 505.89 L144.90 501.70 L145.16 497.64 L145.41 493.77 L145.66 490.13 L145.92 486.80 L146.17 483.83 L146.42 481.26 L146.68 479.17 L146.93 477.58 L147.19 476.54 L147.44 476.08 L147.69 476.24 L147.95 477.03 L148.20 478.43 L148.45 480.40 L148.71 482.89 L148.96 485.86 L149.22 489.24 L149.47 492.98 L149.72 497.01 L149.98 501.26 L150.23 505.68 L150.48 510.21 L150.74 514.79 L150.99 519.37 L151.25 523.90 L151.50 528.33 L151.75 532.63 L152.01 536.76 L152.26 540.70 L152.51 544.40 L152.77 547.85 L153.02 551.00 L153.27 553.66 L153.53 555.84 L153.78 557.61 L154.04 559.04 L154.29 560.22 L154.54 561.21 L154.80 562.08 L155.05 562.92 L155.31 563.80 L155.56 564.80 L155.81 566.00 L156.07 567.46 L156.32 569.16 L156.57 570.80 L156.83 572.36 L157.08 573.86 L157.34 575.30 L157.59 576.68 L157.84 577.99 L158.10 579.25 L158.35 580.46 L158.60 581.61 L158.86 582.71 L159.11 583.77 L159.37 584.77 L159.62 585.73 L159.87 586.65 L160.13 587.52 L160.38 588.35 L160.63 589.14 L160.89 589.88 L161.14 590.59 L161.40 591.26 L161.65 591.88 L161.90 592.47 L162.16 593.02 L162.41 593.53 L162.66 594.00 L162.92 594.44 L163.17 594.83 L163.43 595.19 L163.68 595.53 L163.93 595.83 L164.19 596.11 L164.44 596.36 L164.69 596.59 L164.95 596.80 L165.20 596.99 L165.45 597.16 L165.71 597.30 L165.96 597.43 L166.22 597.55 L166.47 597.64 L166.72 597.73 L166.98 597.80 L167.23 597.86 L167.49 597.90 L167.74 597.94 L167.99 597.96 L168.25 597.98 L168.50 597.99 L168.75 597.98 L169.01 597.97 L169.26 597.93 L169.51 597.89 L169.77 597.83 L170.02 597.76 L170.28 597.67 L170.53 597.56 L170.78 597.44 L171.04 597.30 L171.29 597.15 L171.55 596.98 L171.80 596.79 L172.05 596.58 L172.31 596.35 L172.56 596.10 L172.81 595.83 L173.07 595.54 L173.32 595.23 L173.57 594.89 L173.83 594.53 L174.08 594.12 L174.34 593.67 L174.59 593.17 L174.84 592.63 L175.10 592.05 L175.35 591.42 L175.61 590.74 L175.86 590.03 L176.11 589.27 L176.37 588.47 L176.62 587.63 L176.87 586.75 L177.13 585.82 L177.38 584.85 L177.63 583.83 L177.89 582.77 L178.14 581.67 L178.40 580.52 L178.65 579.32 L178.90 578.07 L179.16 576.77 L179.41 575.42 L179.67 574.01 L179.92 572.55 L180.17 571.03 L180.43 569.45 L180.68 567.80 L180.93 566.32 L181.19 565.10 L181.44 564.07 L181.69 563.17 L181.95 562.32 L182.20 561.44 L182.46 560.46 L182.71 559.31 L182.96 557.92 L183.22 556.21 L183.47 554.12 L183.73 551.57 L183.98 548.52 L184.23 545.17 L184.49 541.58 L184.74 537.78 L184.99 533.78 L185.25 529.62 L185.50 525.32 L185.75 520.91 L186.01 516.44 L186.26 511.94 L186.52 507.46 L186.77 503.06 L187.02 498.79 L187.28 494.71 L187.53 490.88 L187.78 487.37 L188.04 484.23 L188.29 481.53 L188.55 479.32 L188.80 477.65 L189.05 476.57 L189.31 476.10 L189.56 476.25 L189.81 477.01 L190.07 478.35 L190.32 480.23 L190.58 482.61 L190.83 485.44 L191.08 488.67 L191.34 492.23 L191.59 496.07 L191.84 500.12 L192.10 504.32 L192.35 508.63 L192.61 512.98 L192.86 517.33 L193.11 521.63 L193.37 525.86 L193.62 529.98 L193.88 533.95 L194.13 537.76 L194.38 541.38 L194.64 544.79 L194.89 547.99 L195.14 550.95 L195.40 553.76 L195.65 556.43 L195.91 558.95 L196.16 561.34 L196.41 563.60 L196.67 565.72 L196.92 567.72 L197.17 569.60 L197.43 571.36 L197.68 573.00 L197.94 574.54 L198.19 575.98 L198.44 577.31 L198.70 578.55 L198.95 579.70 L199.20 580.76 L199.46 581.73 L199.71 582.63 L199.97 583.45 L200.22 584.19 L200.47 584.86 L200.73 585.46 L200.98 586.00 L201.23 586.47 L201.49 586.88 L201.74 587.22 L202.00 587.51 L202.25 587.74 L202.50 587.89 L202.76 587.94 L203.01 587.89 L203.26 587.73 L203.52 587.48 L203.77 587.15 L204.03 586.73 L204.28 586.23 L204.53 585.66 L204.79 585.02 L205.04 584.32 L205.29 583.55 L205.55 582.72 L205.80 581.84 L206.06 580.90 L206.31 579.92 L206.56 578.89 L206.82 577.81 L207.07 576.70 L207.32 575.54 L207.58 574.35 L207.83 573.06 L208.09 571.67 L208.34 570.19 L208.59 568.61 L208.85 566.95 L209.10 565.20 L209.35 563.38 L209.61 561.48 L209.86 559.51 L210.11 557.48 L210.37 555.39 L210.62 553.25 L210.88 551.08 L211.13 548.94 L211.38 546.97 L211.64 545.13 L211.89 543.43 L212.14 541.83 L212.40 540.32 L212.65 538.90 L212.91 537.57 L213.16 536.33 L213.41 535.18 L213.67 534.12 L213.92 533.18 L214.17 532.36 L214.43 531.67 L214.68 531.11 L214.94 530.69 L215.19 530.41 L215.44 530.28 L215.70 530.51 L215.95 531.12 L216.20 532.10 L216.46 533.41 L216.71 535.04 L216.97 536.94 L217.22 539.09 L217.47 541.42 L217.73 543.91 L217.98 546.52 L218.23 549.19 L218.49 551.91 L218.74 554.64 L219.00 557.35 L219.25 560.02 L219.50 562.63 L219.76 565.18 L220.01 567.65 L220.27 570.04 L220.52 572.33 L220.77 574.53 L221.03 576.64 L221.28 578.66 L221.53 580.59 L221.79 582.44 L222.04 584.21 L222.30 585.89 L222.55 587.52 L222.80 589.08 L223.06 590.57 L223.31 592.00 L223.56 593.37 L223.82 594.68 L224.07 595.93 L224.33 597.12 L224.58 598.25 L224.83 599.32 L225.09 600.33 L225.34 601.29 L225.59 602.18 L225.85 603.02 L226.10 603.81 L226.36 604.57 L226.61 605.29 L226.86 605.97 L227.12 606.63 L227.37 607.25 L227.62 607.84 L227.88 608.41 L228.13 608.95 L228.39 609.46 L228.64 609.96 L228.89 610.43 L229.15 610.88 L229.40 611.32 L229.65 611.74 L229.91 612.14 L230.16 612.52 L230.42 612.89 L230.67 613.25 L230.92 613.59 L231.18 613.93 L231.43 614.25 L231.68 614.56 L231.94 614.86 L232.19 615.15 L232.45 615.43 L232.70 615.71 L232.95 615.97 L233.21 616.23 L233.46 616.48 L233.71 616.73 L233.97 616.97 L234.22 617.20 L234.48 617.42 L234.73 617.63 L234.98 617.84 L235.24 618.04 L235.49 618.24 L235.74 618.43 L236.00 618.61 L236.25 618.79 L236.50 618.95 L236.76 619.12 L237.01 619.27 L237.27 619.42 L237.52 619.56 L237.77 619.69 L238.03 619.82 L238.28 619.95 L238.53 620.07 L238.79 620.18 L239.04 620.29 L239.30 620.40 L239.55 620.50 L239.80 620.60 L240.06 620.69 L240.31 620.79 L240.56 620.87 L240.82 620.96 L241.07 621.04 L241.33 621.12 L241.58 621.20 L241.83 621.27 L242.09 621.34 L242.34 621.41 L242.59 621.47 L242.85 621.53 L243.10 621.59 L243.36 621.65 L243.61 621.71 L243.86 621.76 L244.12 621.81 L244.37 621.86 L244.62 621.91 L244.88 621.95 L245.13 621.99 L245.39 622.03 L245.64 622.07 L245.89 622.11 L246.15 622.15 L246.40 622.18 L246.66 622.21 L246.91 622.25 L247.16 622.28 L247.42 622.30 L247.67 622.33 L247.92 622.36 L248.18 622.38 L248.43 622.41 L248.69 622.43 L248.94 622.45 L249.19 622.47 L249.45 622.49 L249.70 622.51 L249.95 622.53 L250.21 622.54 L250.46 622.56 L250.72 622.57 L250.97 622.59 L251.22 622.60 L251.48 622.61 L251.73 622.63 L251.98 622.64 L252.24 622.65 L252.49 622.66 L252.75 622.67 L253.00 622.68 L253.25 622.69 L253.51 622.70 L253.76 622.71 L254.01 622.72 L254.27 622.73 L254.52 622.74 L254.78 622.74 L255.03 622.75 L255.28 622.76 L255.54 622.77 L255.79 622.77 L256.04 622.78 L256.30 622.78 L256.55 622.78 L256.81 622.79 L257.06 622.79 L257.31 622.79 L257.57 622.79 L257.82 622.79 L258.07 622.79 L258.33 622.79 L258.58 622.79 L258.84 622.79 L259.09 622.79 L259.34 622.78 L259.60 622.78 L259.85 622.78 L260.10 622.77 L260.36 622.77 L260.61 622.76 L260.87 622.76 L261.12 622.75 L261.37 622.74 L261.63 622.74 L261.88 622.73 L262.13 622.72 L262.39 622.71 L262.64 622.70 L262.89 622.69 L263.15 622.68 L263.40 622.67 L263.66 622.66 L263.91 622.65 L264.16 622.64 L264.42 622.63 L264.67 622.62 L264.92 622.60 L265.18 622.59 L265.43 622.58 L265.69 622.56 L265.94 622.55 L266.19 622.54 L266.45 622.52 L266.70 622.51 L266.95 622.49 L267.21 622.47 L267.46 622.46 L267.72 622.44 L267.97 622.43 L268.22 622.41 L268.48 622.39 L268.73 622.37 L268.99 622.36 L269.24 622.34 L269.49 622.32 L269.75 622.30 L270.00 622.28" stroke="#0000ff" stroke-width="2.15" fill="none" stroke-dasharray="3.2 4.66" stroke-linecap="round" stroke-linejoin="round"/>
</g>
<text x="61.90" y="629.20" text-anchor="end" font-size="14.7">0.00</text>
<text x="61.90" y="581.75" text-anchor="end" font-size="14.7">0.05</text>
<text x="61.90" y="534.30" text-anchor="end" font-size="14.7">0.10</text>
<text x="61.90" y="486.85" text-anchor="end" font-size="14.7">0.15</text>
<text x="61.90" y="439.40" text-anchor="end" font-size="14.7">0.20</text>
<text x="69.20" y="639.40" text-anchor="middle" font-size="14.7">-1.0</text>
<text x="119.95" y="639.40" text-anchor="middle" font-size="14.7">-0.5</text>
<text x="170.70" y="639.40" text-anchor="middle" font-size="14.7">0.0</text>
<text x="221.45" y="639.40" text-anchor="middle" font-size="14.7">0.5</text>
<text x="272.20" y="639.40" text-anchor="middle" font-size="14.7">1.0</text>
<text transform="translate(155.90 659.30) scale(1.14 1)" font-size="16">ε</text>
<text x="174.00" y="659.30" font-size="16">Δ</text>
<text y="658.60" font-size="17.8"><tspan x="167.90">(</tspan><tspan x="183.60">)</tspan></text>
<path d="M71.30 447.60 H100.20" stroke="#000" stroke-width="2.3" fill="none" stroke-linejoin="round"/><text x="103.50" y="451.60" font-size="12.3">eV<tspan font-size="7.5" dy="5.4" stroke-width="0" fill="#222">g</tspan><tspan dy="-4.7" dx="-0.5" font-size="12.6">=</tspan><tspan dy="-0.7" dx="3.00">-0.50</tspan></text>
<path d="M72.00 467.80 H98.00" stroke="#ff0000" stroke-width="2.15" fill="none" stroke-dasharray="0.01 3.68" stroke-linecap="round" stroke-linejoin="round"/><text x="103.50" y="472.00" font-size="12.3">eV<tspan font-size="7.5" dy="5.4" stroke-width="0" fill="#222">g</tspan><tspan dy="-4.7" dx="-0.5" font-size="12.6">=</tspan><tspan dy="-0.7" dx="3.00">0.01</tspan></text>
<path d="M166.00 447.80 H192.40" stroke="#0000ff" stroke-width="2.15" fill="none" stroke-dasharray="3.2 4.66" stroke-linecap="round" stroke-linejoin="round"/><text x="197.60" y="451.60" font-size="12.3">eV<tspan font-size="7.5" dy="5.4" stroke-width="0" fill="#222">g</tspan><tspan dy="-4.7" dx="-0.5" font-size="12.6">=</tspan><tspan dy="-0.7" dx="3.00">0.48</tspan></text>
<text transform="translate(238.5 476.3) scale(1.06 1)" font-size="20">(a)</text>
<g transform="translate(17.5 554.2) rotate(-90)"><text font-size="17.4">T<tspan font-size="11" dy="8.0" dx="0.3" stroke-width="0.1">AR,11</tspan></text></g>
<!-- plot b -->
<rect x="67.00" y="691.30" width="203.00" height="189.80" fill="none" stroke="#111" stroke-width="1.25"/>
<path d="M79.69 881.10 V876.30 M79.69 691.30 V696.50 M92.38 881.10 V876.30 M92.38 691.30 V696.50 M105.06 881.10 V876.30 M105.06 691.30 V696.50 M130.44 881.10 V876.30 M130.44 691.30 V696.50 M143.12 881.10 V876.30 M143.12 691.30 V696.50 M155.81 881.10 V876.30 M155.81 691.30 V696.50 M181.19 881.10 V876.30 M181.19 691.30 V696.50 M193.88 881.10 V876.30 M193.88 691.30 V696.50 M206.56 881.10 V876.30 M206.56 691.30 V696.50 M231.94 881.10 V876.30 M231.94 691.30 V696.50 M244.62 881.10 V876.30 M244.62 691.30 V696.50 M257.31 881.10 V876.30 M257.31 691.30 V696.50 M67.00 871.61 H72.00 M270.00 871.61 H265.00 M67.00 862.12 H72.00 M270.00 862.12 H265.00 M67.00 852.63 H72.00 M270.00 852.63 H265.00 M67.00 833.65 H72.00 M270.00 833.65 H265.00 M67.00 824.16 H72.00 M270.00 824.16 H265.00 M67.00 814.67 H72.00 M270.00 814.67 H265.00 M67.00 795.69 H72.00 M270.00 795.69 H265.00 M67.00 786.20 H72.00 M270.00 786.20 H265.00 M67.00 776.71 H72.00 M270.00 776.71 H265.00 M67.00 757.73 H72.00 M270.00 757.73 H265.00 M67.00 748.24 H72.00 M270.00 748.24 H265.00 M67.00 738.75 H72.00 M270.00 738.75 H265.00 M67.00 719.77 H72.00 M270.00 719.77 H265.00 M67.00 710.28 H72.00 M270.00 710.28 H265.00 M67.00 700.79 H72.00 M270.00 700.79 H265.00" stroke="#3a3a3a" stroke-width="1.05" fill="none"/>
<path d="M117.75 881.10 V871.60 M117.75 691.30 V697.60 M168.50 881.10 V871.60 M168.50 691.30 V697.60 M219.25 881.10 V871.60 M219.25 691.30 V697.60 M67.00 843.14 H76.80 M270.00 843.14 H260.20 M67.00 805.18 H76.80 M270.00 805.18 H260.20 M67.00 767.22 H76.80 M270.00 767.22 H260.20 M67.00 729.26 H76.80 M270.00 729.26 H260.20" stroke="#141414" stroke-width="1.1" fill="none"/>
<path d="M168.45 691.30 V881.10" stroke="#000" stroke-width="1.05" fill="none"/>
<g clip-path="url(#cb)">
<path d="M67.00 880.30 L67.25 880.30 L67.51 880.30 L67.76 880.29 L68.02 880.29 L68.27 880.29 L68.52 880.29 L68.78 880.28 L69.03 880.28 L69.28 880.28 L69.54 880.27 L69.79 880.27 L70.05 880.27 L70.30 880.26 L70.55 880.26 L70.81 880.25 L71.06 880.25 L71.31 880.24 L71.57 880.23 L71.82 880.23 L72.08 880.22 L72.33 880.21 L72.58 880.21 L72.84 880.20 L73.09 880.19 L73.34 880.18 L73.60 880.17 L73.85 880.16 L74.11 880.15 L74.36 880.14 L74.61 880.13 L74.87 880.12 L75.12 880.11 L75.37 880.10 L75.63 880.08 L75.88 880.07 L76.13 880.05 L76.39 880.04 L76.64 880.02 L76.90 880.01 L77.15 879.99 L77.40 879.97 L77.66 879.95 L77.91 879.93 L78.16 879.91 L78.42 879.89 L78.67 879.86 L78.93 879.84 L79.18 879.81 L79.43 879.79 L79.69 879.76 L79.94 879.73 L80.19 879.70 L80.45 879.66 L80.70 879.63 L80.96 879.59 L81.21 879.55 L81.46 879.51 L81.72 879.47 L81.97 879.43 L82.22 879.38 L82.48 879.33 L82.73 879.27 L82.99 879.21 L83.24 879.15 L83.49 879.09 L83.75 879.02 L84.00 878.94 L84.25 878.86 L84.51 878.78 L84.76 878.69 L85.02 878.59 L85.27 878.49 L85.52 878.38 L85.78 878.26 L86.03 878.13 L86.28 877.99 L86.54 877.84 L86.79 877.68 L87.05 877.50 L87.30 877.31 L87.55 877.10 L87.81 876.87 L88.06 876.62 L88.31 876.35 L88.57 876.05 L88.82 875.73 L89.08 875.38 L89.33 875.00 L89.58 874.58 L89.84 874.12 L90.09 873.62 L90.34 873.08 L90.60 872.51 L90.85 871.90 L91.11 871.25 L91.36 870.56 L91.61 869.82 L91.87 869.05 L92.12 868.25 L92.38 867.45 L92.63 866.67 L92.88 865.94 L93.14 865.30 L93.39 864.79 L93.64 864.42 L93.90 864.23 L94.15 864.24 L94.41 864.61 L94.66 865.30 L94.91 866.23 L95.17 867.27 L95.42 868.35 L95.67 869.43 L95.93 870.50 L96.18 871.56 L96.44 872.62 L96.69 873.65 L96.94 874.62 L97.20 875.52 L97.45 876.32 L97.70 877.01 L97.96 877.56 L98.21 877.96 L98.47 878.29 L98.72 878.59 L98.97 878.85 L99.23 879.08 L99.48 879.29 L99.73 879.47 L99.99 879.63 L100.24 879.77 L100.50 879.90 L100.75 880.01 L101.00 880.10 L101.26 880.19 L101.51 880.26 L101.76 880.32 L102.02 880.38 L102.27 880.44 L102.53 880.49 L102.78 880.53 L103.03 880.57 L103.29 880.60 L103.54 880.64 L103.79 880.66 L104.05 880.69 L104.30 880.71 L104.56 880.73 L104.81 880.75 L105.06 880.77 L105.32 880.78 L105.57 880.80 L105.82 880.81 L106.08 880.82 L106.33 880.82 L106.59 880.83 L106.84 880.84 L107.09 880.84 L107.35 880.84 L107.60 880.85 L107.85 880.85 L108.11 880.85 L108.36 880.85 L108.62 880.85 L108.87 880.85 L109.12 880.85 L109.38 880.84 L109.63 880.84 L109.88 880.84 L110.14 880.83 L110.39 880.83 L110.64 880.82 L110.90 880.82 L111.15 880.81 L111.41 880.80 L111.66 880.80 L111.91 880.79 L112.17 880.79 L112.42 880.78 L112.67 880.77 L112.93 880.76 L113.18 880.76 L113.44 880.75 L113.69 880.74 L113.94 880.74 L114.20 880.73 L114.45 880.72 L114.70 880.71 L114.96 880.71 L115.21 880.70 L115.47 880.69 L115.72 880.68 L115.97 880.68 L116.23 880.67 L116.48 880.66 L116.73 880.66 L116.99 880.65 L117.24 880.65 L117.50 880.64 L117.75 880.63 L118.00 880.63 L118.26 880.62 L118.51 880.62 L118.77 880.62 L119.02 880.61 L119.27 880.61 L119.53 880.60 L119.78 880.60 L120.03 880.60 L120.29 880.60 L120.54 880.60 L120.80 880.59 L121.05 880.59 L121.30 880.59 L121.56 880.59 L121.81 880.59 L122.06 880.59 L122.32 880.58 L122.57 880.58 L122.83 880.58 L123.08 880.58 L123.33 880.58 L123.59 880.58 L123.84 880.58 L124.09 880.58 L124.35 880.58 L124.60 880.58 L124.86 880.57 L125.11 880.57 L125.36 880.57 L125.62 880.57 L125.87 880.57 L126.12 880.57 L126.38 880.57 L126.63 880.57 L126.88 880.57 L127.14 880.57 L127.39 880.57 L127.65 880.57 L127.90 880.57 L128.15 880.57 L128.41 880.57 L128.66 880.57 L128.91 880.57 L129.17 880.57 L129.42 880.57 L129.68 880.57 L129.93 880.58 L130.18 880.58 L130.44 880.58 L130.69 880.58 L130.94 880.58 L131.20 880.58 L131.45 880.58 L131.71 880.58 L131.96 880.58 L132.21 880.58 L132.47 880.58 L132.72 880.58 L132.98 880.58 L133.23 880.58 L133.48 880.58 L133.74 880.58 L133.99 880.58 L134.24 880.58 L134.50 880.58 L134.75 880.58 L135.00 880.58 L135.26 880.58 L135.51 880.58 L135.77 880.58 L136.02 880.58 L136.27 880.58 L136.53 880.57 L136.78 880.57 L137.04 880.57 L137.29 880.57 L137.54 880.57 L137.80 880.57 L138.05 880.57 L138.30 880.57 L138.56 880.56 L138.81 880.56 L139.06 880.56 L139.32 880.56 L139.57 880.56 L139.83 880.55 L140.08 880.55 L140.33 880.55 L140.59 880.55 L140.84 880.54 L141.09 880.54 L141.35 880.54 L141.60 880.53 L141.86 880.53 L142.11 880.53 L142.36 880.52 L142.62 880.52 L142.87 880.52 L143.12 880.51 L143.38 880.51 L143.63 880.50 L143.89 880.50 L144.14 880.49 L144.39 880.49 L144.65 880.48 L144.90 880.47 L145.16 880.47 L145.41 880.46 L145.66 880.46 L145.92 880.45 L146.17 880.44 L146.42 880.43 L146.68 880.43 L146.93 880.42 L147.19 880.41 L147.44 880.40 L147.69 880.39 L147.95 880.38 L148.20 880.37 L148.45 880.36 L148.71 880.36 L148.96 880.34 L149.22 880.33 L149.47 880.32 L149.72 880.31 L149.98 880.30 L150.23 880.29 L150.48 880.28 L150.74 880.26 L150.99 880.25 L151.25 880.24 L151.50 880.22 L151.75 880.20 L152.01 880.19 L152.26 880.17 L152.51 880.15 L152.77 880.14 L153.02 880.12 L153.27 880.10 L153.53 880.08 L153.78 880.06 L154.04 880.04 L154.29 880.02 L154.54 880.00 L154.80 879.98 L155.05 879.96 L155.31 879.94 L155.56 879.91 L155.81 879.89 L156.07 879.87 L156.32 879.85 L156.57 879.82 L156.83 879.80 L157.08 879.77 L157.34 879.75 L157.59 879.73 L157.84 879.70 L158.10 879.68 L158.35 879.65 L158.60 879.63 L158.86 879.60 L159.11 879.58 L159.37 879.55 L159.62 879.53 L159.87 879.50 L160.13 879.48 L160.38 879.45 L160.63 879.43 L160.89 879.40 L161.14 879.37 L161.40 879.35 L161.65 879.32 L161.90 879.30 L162.16 879.27 L162.41 879.25 L162.66 879.22 L162.92 879.20 L163.17 879.17 L163.43 879.15 L163.68 879.12 L163.93 879.10 L164.19 879.08 L164.44 879.05 L164.69 879.03 L164.95 879.00 L165.20 878.98 L165.45 878.96 L165.71 878.94 L165.96 878.92 L166.22 878.89 L166.47 878.87 L166.72 878.85 L166.98 878.83 L167.23 878.81 L167.49 878.79 L167.74 878.77 L167.99 878.76 L168.25 878.74 L168.50 878.72 L168.75 878.70 L169.01 878.68 L169.26 878.66 L169.51 878.64 L169.77 878.62 L170.02 878.60 L170.28 878.58 L170.53 878.55 L170.78 878.53 L171.04 878.51 L171.29 878.49 L171.55 878.46 L171.80 878.44 L172.05 878.41 L172.31 878.38 L172.56 878.36 L172.81 878.33 L173.07 878.30 L173.32 878.27 L173.57 878.24 L173.83 878.20 L174.08 878.17 L174.34 878.13 L174.59 878.10 L174.84 878.06 L175.10 878.02 L175.35 877.97 L175.61 877.93 L175.86 877.88 L176.11 877.82 L176.37 877.77 L176.62 877.71 L176.87 877.64 L177.13 877.58 L177.38 877.51 L177.63 877.43 L177.89 877.36 L178.14 877.28 L178.40 877.21 L178.65 877.13 L178.90 877.04 L179.16 876.96 L179.41 876.88 L179.67 876.79 L179.92 876.71 L180.17 876.62 L180.43 876.53 L180.68 876.45 L180.93 876.36 L181.19 876.27 L181.44 876.19 L181.69 876.10 L181.95 876.02 L182.20 875.93 L182.46 875.85 L182.71 875.77 L182.96 875.69 L183.22 875.61 L183.47 875.54 L183.73 875.46 L183.98 875.39 L184.23 875.31 L184.49 875.23 L184.74 875.15 L184.99 875.07 L185.25 874.99 L185.50 874.90 L185.75 874.82 L186.01 874.73 L186.26 874.64 L186.52 874.55 L186.77 874.46 L187.02 874.36 L187.28 874.26 L187.53 874.16 L187.78 874.06 L188.04 873.96 L188.29 873.85 L188.55 873.74 L188.80 873.63 L189.05 873.52 L189.31 873.40 L189.56 873.29 L189.81 873.16 L190.07 873.04 L190.32 872.91 L190.58 872.78 L190.83 872.65 L191.08 872.52 L191.34 872.38 L191.59 872.24 L191.84 872.09 L192.10 871.94 L192.35 871.79 L192.61 871.63 L192.86 871.47 L193.11 871.30 L193.37 871.13 L193.62 870.96 L193.88 870.78 L194.13 870.59 L194.38 870.41 L194.64 870.21 L194.89 870.01 L195.14 869.81 L195.40 869.60 L195.65 869.38 L195.91 869.16 L196.16 868.94 L196.41 868.71 L196.67 868.47 L196.92 868.23 L197.17 867.98 L197.43 867.73 L197.68 867.48 L197.94 867.23 L198.19 866.97 L198.44 866.71 L198.70 866.44 L198.95 866.16 L199.20 865.87 L199.46 865.57 L199.71 865.25 L199.97 864.91 L200.22 864.57 L200.47 864.21 L200.73 863.83 L200.98 863.45 L201.23 863.05 L201.49 862.64 L201.74 862.22 L202.00 861.78 L202.25 861.33 L202.50 860.86 L202.76 860.37 L203.01 859.86 L203.26 859.34 L203.52 858.80 L203.77 858.24 L204.03 857.65 L204.28 857.05 L204.53 856.42 L204.79 855.77 L205.04 855.09 L205.29 854.39 L205.55 853.65 L205.80 852.89 L206.06 852.07 L206.31 851.20 L206.56 850.28 L206.82 849.31 L207.07 848.31 L207.32 847.26 L207.58 846.18 L207.83 845.06 L208.09 843.91 L208.34 842.72 L208.59 841.51 L208.85 840.27 L209.10 839.00 L209.35 837.68 L209.61 836.32 L209.86 834.90 L210.11 833.42 L210.37 831.87 L210.62 830.24 L210.88 828.52 L211.13 826.72 L211.38 824.81 L211.64 822.80 L211.89 820.69 L212.14 818.47 L212.40 816.14 L212.65 813.70 L212.91 811.15 L213.16 808.47 L213.41 805.68 L213.67 802.77 L213.92 799.72 L214.17 796.46 L214.43 793.03 L214.68 789.46 L214.94 785.79 L215.19 782.05 L215.44 778.29 L215.70 774.53 L215.95 770.74 L216.20 766.92 L216.46 763.06 L216.71 759.17 L216.97 755.23 L217.22 751.45 L217.47 748.02 L217.73 744.75 L217.98 741.41 L218.23 737.79 L218.49 733.74 L218.74 729.54 L219.00 725.38 L219.25 721.33 L219.50 717.48 L219.76 713.92 L220.01 710.60 L220.27 707.33 L220.52 704.29 L220.77 701.73 L221.03 699.85 L221.28 698.88 L221.53 699.06 L221.79 700.41 L222.04 702.65 L222.30 705.48 L222.55 708.57 L222.80 711.61 L223.06 714.41 L223.31 717.32 L223.56 720.40 L223.82 723.69 L224.07 727.19 L224.33 730.94 L224.58 734.95 L224.83 739.27 L225.09 743.81 L225.34 748.43 L225.59 752.99 L225.85 757.34 L226.10 761.35 L226.36 765.01 L226.61 768.36 L226.86 771.48 L227.12 774.42 L227.37 777.26 L227.62 780.06 L227.88 782.82 L228.13 785.42 L228.39 787.85 L228.64 790.13 L228.89 792.30 L229.15 794.35 L229.40 796.33 L229.65 798.25 L229.91 800.14 L230.16 802.00 L230.42 803.88 L230.67 805.75 L230.92 807.58 L231.18 809.37 L231.43 811.10 L231.68 812.75 L231.94 814.31 L232.19 815.77 L232.45 817.10 L232.70 818.29 L232.95 819.38 L233.21 820.38 L233.46 821.30 L233.71 822.10 L233.97 822.78 L234.22 823.31 L234.48 823.69 L234.73 823.88 L234.98 823.88 L235.24 823.71 L235.49 823.37 L235.74 822.85 L236.00 822.15 L236.25 821.28 L236.50 820.23 L236.76 818.99 L237.01 817.56 L237.27 815.94 L237.52 814.16 L237.77 812.18 L238.03 809.94 L238.28 807.37 L238.53 804.42 L238.79 801.07 L239.04 797.40 L239.30 793.48 L239.55 789.40 L239.80 785.55 L240.06 781.97 L240.31 778.52 L240.56 775.09 L240.82 771.56 L241.07 767.72 L241.33 763.45 L241.58 759.48 L241.83 756.56 L242.09 755.40 L242.34 756.51 L242.59 759.74 L242.85 764.68 L243.10 770.77 L243.36 777.07 L243.61 782.34 L243.86 787.66 L244.12 793.56 L244.37 799.30 L244.62 804.96 L244.88 810.22 L245.13 815.03 L245.39 819.66 L245.64 825.71 L245.89 831.48 L246.15 835.91 L246.40 839.81 L246.66 843.27 L246.91 846.40 L247.16 849.32 L247.42 852.03 L247.67 854.50 L247.92 856.69 L248.18 858.54 L248.43 860.05 L248.69 861.40 L248.94 862.63 L249.19 863.76 L249.45 864.80 L249.70 865.74 L249.95 866.59 L250.21 867.37 L250.46 868.06 L250.72 868.69 L250.97 869.28 L251.22 869.81 L251.48 870.31 L251.73 870.77 L251.98 871.20 L252.24 871.60 L252.49 871.97 L252.75 872.33 L253.00 872.67 L253.25 872.99 L253.51 873.30 L253.76 873.60 L254.01 873.87 L254.27 874.14 L254.52 874.39 L254.78 874.63 L255.03 874.85 L255.28 875.07 L255.54 875.28 L255.79 875.47 L256.04 875.66 L256.30 875.84 L256.55 876.02 L256.81 876.18 L257.06 876.34 L257.31 876.49 L257.57 876.64 L257.82 876.78 L258.07 876.91 L258.33 877.04 L258.58 877.16 L258.84 877.28 L259.09 877.39 L259.34 877.50 L259.60 877.61 L259.85 877.71 L260.10 877.81 L260.36 877.90 L260.61 877.99 L260.87 878.08 L261.12 878.17 L261.37 878.25 L261.63 878.33 L261.88 878.41 L262.13 878.48 L262.39 878.56 L262.64 878.63 L262.89 878.70 L263.15 878.77 L263.40 878.84 L263.66 878.91 L263.91 878.98 L264.16 879.05 L264.42 879.12 L264.67 879.19 L264.92 879.26 L265.18 879.32 L265.43 879.39 L265.69 879.45 L265.94 879.51 L266.19 879.57 L266.45 879.63 L266.70 879.68 L266.95 879.73 L267.21 879.78 L267.46 879.82 L267.72 879.86 L267.97 879.89 L268.22 879.92 L268.48 879.95 L268.73 879.97 L268.99 879.99 L269.24 880.00 L269.49 879.87 L269.75 878.61 L270.00 876.99" stroke="#000" stroke-width="2.3" fill="none" stroke-linejoin="round"/>
<path d="M67.00 880.50 L67.25 880.48 L67.51 880.47 L67.76 880.45 L68.02 880.44 L68.27 880.42 L68.52 880.41 L68.78 880.39 L69.03 880.38 L69.28 880.36 L69.54 880.35 L69.79 880.33 L70.05 880.31 L70.30 880.30 L70.55 880.28 L70.81 880.27 L71.06 880.25 L71.31 880.24 L71.57 880.22 L71.82 880.20 L72.08 880.19 L72.33 880.17 L72.58 880.16 L72.84 880.14 L73.09 880.12 L73.34 880.11 L73.60 880.09 L73.85 880.07 L74.11 880.06 L74.36 880.04 L74.61 880.03 L74.87 880.01 L75.12 879.99 L75.37 879.98 L75.63 879.96 L75.88 879.94 L76.13 879.93 L76.39 879.91 L76.64 879.89 L76.90 879.88 L77.15 879.86 L77.40 879.84 L77.66 879.83 L77.91 879.81 L78.16 879.79 L78.42 879.78 L78.67 879.76 L78.93 879.74 L79.18 879.72 L79.43 879.71 L79.69 879.69 L79.94 879.67 L80.19 879.66 L80.45 879.64 L80.70 879.62 L80.96 879.60 L81.21 879.59 L81.46 879.57 L81.72 879.55 L81.97 879.53 L82.22 879.51 L82.48 879.49 L82.73 879.47 L82.99 879.45 L83.24 879.43 L83.49 879.41 L83.75 879.39 L84.00 879.37 L84.25 879.35 L84.51 879.32 L84.76 879.30 L85.02 879.28 L85.27 879.25 L85.52 879.23 L85.78 879.20 L86.03 879.18 L86.28 879.15 L86.54 879.12 L86.79 879.10 L87.05 879.07 L87.30 879.04 L87.55 879.01 L87.81 878.98 L88.06 878.94 L88.31 878.91 L88.57 878.88 L88.82 878.84 L89.08 878.81 L89.33 878.77 L89.58 878.73 L89.84 878.70 L90.09 878.66 L90.34 878.61 L90.60 878.57 L90.85 878.53 L91.11 878.48 L91.36 878.44 L91.61 878.39 L91.87 878.34 L92.12 878.29 L92.38 878.24 L92.63 878.18 L92.88 878.12 L93.14 878.07 L93.39 878.01 L93.64 877.94 L93.90 877.88 L94.15 877.81 L94.41 877.74 L94.66 877.67 L94.91 877.60 L95.17 877.52 L95.42 877.44 L95.67 877.36 L95.93 877.27 L96.18 877.18 L96.44 877.09 L96.69 876.99 L96.94 876.89 L97.20 876.78 L97.45 876.67 L97.70 876.56 L97.96 876.44 L98.21 876.31 L98.47 876.18 L98.72 876.04 L98.97 875.90 L99.23 875.75 L99.48 875.60 L99.73 875.43 L99.99 875.26 L100.24 875.09 L100.50 874.90 L100.75 874.70 L101.00 874.50 L101.26 874.29 L101.51 874.06 L101.76 873.83 L102.02 873.58 L102.27 873.32 L102.53 873.03 L102.78 872.71 L103.03 872.38 L103.29 872.02 L103.54 871.64 L103.79 871.25 L104.05 870.83 L104.30 870.39 L104.56 869.94 L104.81 869.47 L105.06 868.98 L105.32 868.48 L105.57 867.96 L105.82 867.42 L106.08 866.87 L106.33 866.31 L106.59 865.74 L106.84 865.16 L107.09 864.58 L107.35 863.97 L107.60 863.35 L107.85 862.70 L108.11 862.01 L108.36 861.29 L108.62 860.54 L108.87 859.74 L109.12 858.89 L109.38 858.00 L109.63 857.07 L109.88 856.09 L110.14 855.10 L110.39 854.09 L110.64 853.08 L110.90 852.05 L111.15 851.01 L111.41 849.98 L111.66 848.96 L111.91 847.95 L112.17 846.98 L112.42 846.07 L112.67 845.23 L112.93 844.48 L113.18 843.85 L113.44 843.35 L113.69 842.99 L113.94 842.78 L114.20 842.83 L114.45 843.21 L114.70 843.90 L114.96 844.88 L115.21 846.11 L115.47 847.56 L115.72 849.19 L115.97 851.00 L116.23 852.93 L116.48 854.85 L116.73 856.73 L116.99 858.55 L117.24 860.27 L117.50 861.88 L117.75 863.37 L118.00 864.72 L118.26 865.95 L118.51 867.08 L118.77 868.14 L119.02 869.13 L119.27 870.04 L119.53 870.89 L119.78 871.66 L120.03 872.37 L120.29 873.01 L120.54 873.59 L120.80 874.11 L121.05 874.56 L121.30 874.98 L121.56 875.36 L121.81 875.72 L122.06 876.06 L122.32 876.36 L122.57 876.65 L122.83 876.91 L123.08 877.15 L123.33 877.37 L123.59 877.58 L123.84 877.76 L124.09 877.92 L124.35 878.07 L124.60 878.20 L124.86 878.32 L125.11 878.42 L125.36 878.52 L125.62 878.60 L125.87 878.67 L126.12 878.73 L126.38 878.79 L126.63 878.84 L126.88 878.88 L127.14 878.92 L127.39 878.95 L127.65 878.98 L127.90 879.00 L128.15 879.03 L128.41 879.05 L128.66 879.07 L128.91 879.09 L129.17 879.12 L129.42 879.14 L129.68 879.16 L129.93 879.19 L130.18 879.22 L130.44 879.25 L130.69 879.27 L130.94 879.30 L131.20 879.32 L131.45 879.34 L131.71 879.36 L131.96 879.38 L132.21 879.40 L132.47 879.41 L132.72 879.42 L132.98 879.44 L133.23 879.45 L133.48 879.46 L133.74 879.47 L133.99 879.48 L134.24 879.49 L134.50 879.50 L134.75 879.50 L135.00 879.51 L135.26 879.51 L135.51 879.52 L135.77 879.52 L136.02 879.52 L136.27 879.53 L136.53 879.53 L136.78 879.53 L137.04 879.53 L137.29 879.53 L137.54 879.53 L137.80 879.53 L138.05 879.52 L138.30 879.52 L138.56 879.52 L138.81 879.51 L139.06 879.51 L139.32 879.51 L139.57 879.50 L139.83 879.50 L140.08 879.49 L140.33 879.48 L140.59 879.48 L140.84 879.47 L141.09 879.46 L141.35 879.46 L141.60 879.45 L141.86 879.44 L142.11 879.43 L142.36 879.42 L142.62 879.41 L142.87 879.40 L143.12 879.39 L143.38 879.38 L143.63 879.37 L143.89 879.36 L144.14 879.34 L144.39 879.33 L144.65 879.32 L144.90 879.31 L145.16 879.29 L145.41 879.28 L145.66 879.27 L145.92 879.26 L146.17 879.25 L146.42 879.24 L146.68 879.24 L146.93 879.23 L147.19 879.22 L147.44 879.22 L147.69 879.22 L147.95 879.21 L148.20 879.21 L148.45 879.21 L148.71 879.21 L148.96 879.21 L149.22 879.20 L149.47 879.20 L149.72 879.20 L149.98 879.20 L150.23 879.20 L150.48 879.20 L150.74 879.20 L150.99 879.20 L151.25 879.20 L151.50 879.20 L151.75 879.20 L152.01 879.20 L152.26 879.20 L152.51 879.20 L152.77 879.19 L153.02 879.19 L153.27 879.18 L153.53 879.18 L153.78 879.17 L154.04 879.17 L154.29 879.16 L154.54 879.15 L154.80 879.14 L155.05 879.13 L155.31 879.12 L155.56 879.10 L155.81 879.09 L156.07 879.07 L156.32 879.06 L156.57 879.04 L156.83 879.02 L157.08 878.99 L157.34 878.97 L157.59 878.95 L157.84 878.92 L158.10 878.90 L158.35 878.87 L158.60 878.85 L158.86 878.82 L159.11 878.80 L159.37 878.77 L159.62 878.74 L159.87 878.71 L160.13 878.68 L160.38 878.65 L160.63 878.61 L160.89 878.58 L161.14 878.54 L161.40 878.50 L161.65 878.46 L161.90 878.42 L162.16 878.38 L162.41 878.33 L162.66 878.28 L162.92 878.23 L163.17 878.17 L163.43 878.12 L163.68 878.06 L163.93 878.00 L164.19 877.93 L164.44 877.86 L164.69 877.79 L164.95 877.72 L165.20 877.64 L165.45 877.55 L165.71 877.46 L165.96 877.37 L166.22 877.27 L166.47 877.17 L166.72 877.07 L166.98 876.96 L167.23 876.84 L167.49 876.73 L167.74 876.60 L167.99 876.48 L168.25 876.35 L168.50 876.22 L168.75 876.09 L169.01 875.95 L169.26 875.81 L169.51 875.66 L169.77 875.51 L170.02 875.34 L170.28 875.17 L170.53 875.00 L170.78 874.81 L171.04 874.62 L171.29 874.43 L171.55 874.22 L171.80 874.02 L172.05 873.80 L172.31 873.58 L172.56 873.36 L172.81 873.13 L173.07 872.90 L173.32 872.66 L173.57 872.42 L173.83 872.17 L174.08 871.92 L174.34 871.67 L174.59 871.41 L174.84 871.15 L175.10 870.88 L175.35 870.61 L175.61 870.33 L175.86 870.05 L176.11 869.75 L176.37 869.45 L176.62 869.14 L176.87 868.83 L177.13 868.50 L177.38 868.16 L177.63 867.82 L177.89 867.46 L178.14 867.09 L178.40 866.71 L178.65 866.32 L178.90 865.91 L179.16 865.49 L179.41 865.05 L179.67 864.60 L179.92 864.13 L180.17 863.65 L180.43 863.15 L180.68 862.63 L180.93 862.09 L181.19 861.52 L181.44 860.94 L181.69 860.34 L181.95 859.71 L182.20 859.06 L182.46 858.38 L182.71 857.67 L182.96 856.94 L183.22 856.17 L183.47 855.38 L183.73 854.55 L183.98 853.69 L184.23 852.79 L184.49 851.85 L184.74 850.87 L184.99 849.85 L185.25 848.79 L185.50 847.68 L185.75 846.52 L186.01 845.30 L186.26 844.03 L186.52 842.70 L186.77 841.30 L187.02 839.84 L187.28 838.31 L187.53 836.71 L187.78 835.03 L188.04 833.24 L188.29 831.34 L188.55 829.36 L188.80 827.28 L189.05 825.14 L189.31 822.92 L189.56 820.66 L189.81 818.36 L190.07 816.12 L190.32 813.93 L190.58 811.73 L190.83 809.49 L191.08 807.17 L191.34 804.74 L191.59 802.16 L191.84 799.40 L192.10 796.55 L192.35 793.65 L192.61 790.66 L192.86 787.55 L193.11 784.29 L193.37 780.85 L193.62 777.30 L193.88 773.76 L194.13 770.29 L194.38 766.91 L194.64 763.65 L194.89 760.57 L195.14 757.63 L195.40 754.61 L195.65 751.62 L195.91 748.81 L196.16 746.33 L196.41 744.33 L196.67 742.95 L196.92 742.32 L197.17 742.52 L197.43 743.43 L197.68 744.96 L197.94 746.99 L198.19 749.40 L198.44 752.07 L198.70 754.88 L198.95 757.69 L199.20 760.40 L199.46 763.13 L199.71 765.91 L199.97 768.73 L200.22 771.58 L200.47 774.44 L200.73 777.31 L200.98 780.17 L201.23 782.92 L201.49 785.41 L201.74 787.71 L202.00 789.90 L202.25 792.04 L202.50 794.22 L202.76 796.50 L203.01 798.97 L203.26 801.69 L203.52 804.63 L203.77 807.70 L204.03 810.79 L204.28 813.81 L204.53 816.67 L204.79 819.27 L205.04 821.64 L205.29 823.90 L205.55 826.06 L205.80 828.10 L206.06 830.04 L206.31 831.85 L206.56 833.54 L206.82 835.11 L207.07 836.56 L207.32 837.94 L207.58 839.25 L207.83 840.48 L208.09 841.63 L208.34 842.71 L208.59 843.72 L208.85 844.66 L209.10 845.52 L209.35 846.31 L209.61 847.02 L209.86 847.64 L210.11 848.16 L210.37 848.59 L210.62 848.94 L210.88 849.21 L211.13 849.43 L211.38 849.59 L211.64 849.71 L211.89 849.79 L212.14 849.85 L212.40 849.89 L212.65 849.91 L212.91 849.88 L213.16 849.80 L213.41 849.68 L213.67 849.50 L213.92 849.28 L214.17 849.00 L214.43 848.68 L214.68 848.31 L214.94 847.89 L215.19 847.42 L215.44 846.90 L215.70 846.32 L215.95 845.69 L216.20 845.01 L216.46 844.25 L216.71 843.41 L216.97 842.49 L217.22 841.48 L217.47 840.38 L217.73 839.20 L217.98 837.91 L218.23 836.54 L218.49 835.07 L218.74 833.51 L219.00 831.87 L219.25 830.15 L219.50 828.37 L219.76 826.61 L220.01 824.91 L220.27 823.25 L220.52 821.67 L220.77 820.17 L221.03 818.78 L221.28 817.53 L221.53 816.43 L221.79 815.53 L222.04 814.84 L222.30 814.38 L222.55 814.17 L222.80 814.20 L223.06 814.45 L223.31 814.91 L223.56 815.62 L223.82 816.59 L224.07 817.81 L224.33 819.27 L224.58 820.96 L224.83 822.87 L225.09 825.01 L225.34 827.39 L225.59 830.44 L225.85 835.01 L226.10 838.71 L226.36 840.88 L226.61 842.72 L226.86 844.34 L227.12 845.88 L227.37 847.47 L227.62 849.16 L227.88 850.79 L228.13 852.33 L228.39 853.80 L228.64 855.18 L228.89 856.49 L229.15 857.72 L229.40 858.87 L229.65 859.95 L229.91 861.01 L230.16 862.04 L230.42 863.04 L230.67 863.99 L230.92 864.89 L231.18 865.73 L231.43 866.49 L231.68 867.17 L231.94 867.77 L232.19 868.28 L232.45 868.77 L232.70 869.22 L232.95 869.65 L233.21 870.06 L233.46 870.44 L233.71 870.81 L233.97 871.15 L234.22 871.48 L234.48 871.79 L234.73 872.09 L234.98 872.37 L235.24 872.63 L235.49 872.89 L235.74 873.13 L236.00 873.35 L236.25 873.56 L236.50 873.76 L236.76 873.95 L237.01 874.12 L237.27 874.29 L237.52 874.45 L237.77 874.60 L238.03 874.75 L238.28 874.88 L238.53 875.02 L238.79 875.14 L239.04 875.27 L239.30 875.39 L239.55 875.51 L239.80 875.63 L240.06 875.74 L240.31 875.86 L240.56 875.97 L240.82 876.09 L241.07 876.20 L241.33 876.31 L241.58 876.41 L241.83 876.51 L242.09 876.61 L242.34 876.71 L242.59 876.80 L242.85 876.90 L243.10 876.99 L243.36 877.07 L243.61 877.16 L243.86 877.24 L244.12 877.32 L244.37 877.40 L244.62 877.48 L244.88 877.55 L245.13 877.63 L245.39 877.70 L245.64 877.76 L245.89 877.83 L246.15 877.89 L246.40 877.95 L246.66 878.01 L246.91 878.07 L247.16 878.12 L247.42 878.18 L247.67 878.23 L247.92 878.28 L248.18 878.33 L248.43 878.38 L248.69 878.43 L248.94 878.47 L249.19 878.52 L249.45 878.56 L249.70 878.60 L249.95 878.64 L250.21 878.69 L250.46 878.72 L250.72 878.76 L250.97 878.80 L251.22 878.84 L251.48 878.87 L251.73 878.91 L251.98 878.94 L252.24 878.97 L252.49 879.01 L252.75 879.04 L253.00 879.07 L253.25 879.10 L253.51 879.13 L253.76 879.16 L254.01 879.19 L254.27 879.22 L254.52 879.24 L254.78 879.27 L255.03 879.30 L255.28 879.32 L255.54 879.35 L255.79 879.37 L256.04 879.40 L256.30 879.42 L256.55 879.45 L256.81 879.47 L257.06 879.49 L257.31 879.52 L257.57 879.54 L257.82 879.56 L258.07 879.58 L258.33 879.61 L258.58 879.63 L258.84 879.65 L259.09 879.67 L259.34 879.69 L259.60 879.71 L259.85 879.73 L260.10 879.75 L260.36 879.77 L260.61 879.79 L260.87 879.81 L261.12 879.83 L261.37 879.85 L261.63 879.87 L261.88 879.89 L262.13 879.91 L262.39 879.93 L262.64 879.95 L262.89 879.97 L263.15 879.99 L263.40 880.01 L263.66 880.03 L263.91 880.05 L264.16 880.07 L264.42 880.09 L264.67 880.11 L264.92 880.13 L265.18 880.15 L265.43 880.17 L265.69 880.19 L265.94 880.21 L266.19 880.22 L266.45 880.24 L266.70 880.26 L266.95 880.28 L267.21 880.30 L267.46 880.32 L267.72 880.34 L267.97 880.36 L268.22 880.37 L268.48 880.39 L268.73 880.41 L268.99 880.43 L269.24 880.45 L269.49 880.46 L269.75 880.48 L270.00 880.50" stroke="#ff0000" stroke-width="2.15" fill="none" stroke-dasharray="0.01 3.68" stroke-linecap="round" stroke-linejoin="round"/>
<path d="M67.00 880.20 L67.25 880.15 L67.51 880.10 L67.76 880.05 L68.02 880.00 L68.27 879.95 L68.52 879.91 L68.78 879.86 L69.03 879.81 L69.28 879.77 L69.54 879.72 L69.79 879.68 L70.05 879.64 L70.30 879.61 L70.55 879.57 L70.81 879.54 L71.06 879.51 L71.31 879.49 L71.57 879.47 L71.82 879.44 L72.08 879.42 L72.33 879.39 L72.58 879.37 L72.84 879.35 L73.09 879.32 L73.34 879.30 L73.60 879.28 L73.85 879.25 L74.11 879.23 L74.36 879.20 L74.61 879.18 L74.87 879.15 L75.12 879.13 L75.37 879.10 L75.63 879.08 L75.88 879.05 L76.13 879.03 L76.39 879.00 L76.64 878.98 L76.90 878.95 L77.15 878.92 L77.40 878.90 L77.66 878.87 L77.91 878.84 L78.16 878.82 L78.42 878.79 L78.67 878.76 L78.93 878.74 L79.18 878.71 L79.43 878.68 L79.69 878.65 L79.94 878.62 L80.19 878.59 L80.45 878.56 L80.70 878.54 L80.96 878.51 L81.21 878.48 L81.46 878.45 L81.72 878.42 L81.97 878.39 L82.22 878.36 L82.48 878.33 L82.73 878.30 L82.99 878.27 L83.24 878.25 L83.49 878.22 L83.75 878.19 L84.00 878.16 L84.25 878.13 L84.51 878.10 L84.76 878.07 L85.02 878.04 L85.27 878.01 L85.52 877.98 L85.78 877.95 L86.03 877.92 L86.28 877.89 L86.54 877.85 L86.79 877.82 L87.05 877.78 L87.30 877.74 L87.55 877.70 L87.81 877.67 L88.06 877.62 L88.31 877.58 L88.57 877.54 L88.82 877.49 L89.08 877.45 L89.33 877.40 L89.58 877.35 L89.84 877.29 L90.09 877.24 L90.34 877.18 L90.60 877.13 L90.85 877.06 L91.11 877.00 L91.36 876.94 L91.61 876.87 L91.87 876.80 L92.12 876.72 L92.38 876.65 L92.63 876.57 L92.88 876.49 L93.14 876.41 L93.39 876.32 L93.64 876.24 L93.90 876.15 L94.15 876.06 L94.41 875.96 L94.66 875.87 L94.91 875.77 L95.17 875.67 L95.42 875.56 L95.67 875.45 L95.93 875.34 L96.18 875.23 L96.44 875.12 L96.69 875.00 L96.94 874.87 L97.20 874.75 L97.45 874.61 L97.70 874.48 L97.96 874.34 L98.21 874.20 L98.47 874.05 L98.72 873.90 L98.97 873.74 L99.23 873.58 L99.48 873.41 L99.73 873.22 L99.99 873.01 L100.24 872.79 L100.50 872.55 L100.75 872.30 L101.00 872.04 L101.26 871.76 L101.51 871.47 L101.76 871.17 L102.02 870.86 L102.27 870.54 L102.53 870.21 L102.78 869.88 L103.03 869.53 L103.29 869.18 L103.54 868.82 L103.79 868.45 L104.05 868.08 L104.30 867.70 L104.56 867.29 L104.81 866.88 L105.06 866.44 L105.32 865.99 L105.57 865.52 L105.82 865.04 L106.08 864.54 L106.33 864.03 L106.59 863.50 L106.84 862.96 L107.09 862.41 L107.35 861.84 L107.60 861.26 L107.85 860.67 L108.11 860.07 L108.36 859.45 L108.62 858.82 L108.87 858.16 L109.12 857.49 L109.38 856.79 L109.63 856.06 L109.88 855.31 L110.14 854.52 L110.39 853.70 L110.64 852.84 L110.90 851.95 L111.15 851.01 L111.41 850.02 L111.66 848.99 L111.91 847.92 L112.17 846.86 L112.42 845.81 L112.67 844.75 L112.93 843.66 L113.18 842.53 L113.44 841.32 L113.69 840.03 L113.94 838.64 L114.20 837.12 L114.45 835.45 L114.70 833.63 L114.96 831.71 L115.21 829.71 L115.47 827.62 L115.72 825.44 L115.97 823.16 L116.23 820.81 L116.48 818.37 L116.73 815.85 L116.99 813.28 L117.24 810.67 L117.50 808.05 L117.75 805.44 L118.00 802.86 L118.26 800.33 L118.51 797.89 L118.77 795.51 L119.02 793.18 L119.27 790.96 L119.53 788.89 L119.78 787.05 L120.03 785.46 L120.29 784.18 L120.54 783.25 L120.80 782.71 L121.05 782.56 L121.30 782.78 L121.56 783.34 L121.81 784.22 L122.06 785.41 L122.32 786.86 L122.57 788.55 L122.83 790.45 L123.08 792.50 L123.33 794.69 L123.59 796.96 L123.84 799.27 L124.09 801.52 L124.35 803.71 L124.60 805.86 L124.86 807.99 L125.11 810.13 L125.36 812.30 L125.62 814.53 L125.87 816.85 L126.12 819.20 L126.38 821.54 L126.63 823.84 L126.88 826.10 L127.14 828.30 L127.39 830.43 L127.65 832.47 L127.90 834.40 L128.15 836.26 L128.41 838.06 L128.66 839.82 L128.91 841.51 L129.17 843.13 L129.42 844.68 L129.68 846.15 L129.93 847.54 L130.18 848.85 L130.44 850.06 L130.69 851.16 L130.94 852.19 L131.20 853.17 L131.45 854.09 L131.71 854.95 L131.96 855.77 L132.21 856.53 L132.47 857.24 L132.72 857.90 L132.98 858.51 L133.23 859.07 L133.48 859.57 L133.74 860.02 L133.99 860.45 L134.24 860.84 L134.50 861.20 L134.75 861.52 L135.00 861.82 L135.26 862.09 L135.51 862.32 L135.77 862.53 L136.02 862.70 L136.27 862.85 L136.53 862.96 L136.78 863.05 L137.04 863.11 L137.29 863.10 L137.54 863.04 L137.80 862.90 L138.05 862.71 L138.30 862.47 L138.56 862.17 L138.81 861.82 L139.06 861.43 L139.32 861.00 L139.57 860.53 L139.83 860.03 L140.08 859.49 L140.33 858.92 L140.59 858.33 L140.84 857.71 L141.09 857.07 L141.35 856.40 L141.60 855.68 L141.86 854.89 L142.11 854.03 L142.36 853.11 L142.62 852.12 L142.87 851.06 L143.12 849.94 L143.38 848.75 L143.63 847.50 L143.89 846.20 L144.14 844.88 L144.39 843.64 L144.65 842.50 L144.90 841.45 L145.16 840.49 L145.41 839.64 L145.66 838.90 L145.92 838.28 L146.17 837.79 L146.42 837.44 L146.68 837.24 L146.93 837.17 L147.19 837.23 L147.44 837.38 L147.69 837.66 L147.95 838.09 L148.20 838.70 L148.45 839.50 L148.71 840.47 L148.96 841.64 L149.22 843.03 L149.47 844.65 L149.72 846.51 L149.98 848.35 L150.23 850.09 L150.48 851.74 L150.74 853.28 L150.99 854.71 L151.25 856.05 L151.50 857.28 L151.75 858.43 L152.01 859.63 L152.26 860.89 L152.51 862.19 L152.77 863.50 L153.02 864.76 L153.27 865.95 L153.53 867.02 L153.78 867.94 L154.04 868.74 L154.29 869.48 L154.54 870.17 L154.80 870.82 L155.05 871.42 L155.31 871.99 L155.56 872.51 L155.81 873.00 L156.07 873.45 L156.32 873.87 L156.57 874.26 L156.83 874.62 L157.08 874.97 L157.34 875.30 L157.59 875.62 L157.84 875.92 L158.10 876.20 L158.35 876.47 L158.60 876.72 L158.86 876.95 L159.11 877.16 L159.37 877.35 L159.62 877.53 L159.87 877.68 L160.13 877.81 L160.38 877.93 L160.63 878.04 L160.89 878.15 L161.14 878.25 L161.40 878.35 L161.65 878.44 L161.90 878.53 L162.16 878.61 L162.41 878.69 L162.66 878.77 L162.92 878.84 L163.17 878.91 L163.43 878.97 L163.68 879.03 L163.93 879.09 L164.19 879.14 L164.44 879.20 L164.69 879.24 L164.95 879.29 L165.20 879.33 L165.45 879.38 L165.71 879.41 L165.96 879.45 L166.22 879.48 L166.47 879.52 L166.72 879.54 L166.98 879.57 L167.23 879.60 L167.49 879.62 L167.74 879.64 L167.99 879.66 L168.25 879.67 L168.50 879.69 L168.75 879.70 L169.01 879.71 L169.26 879.72 L169.51 879.73 L169.77 879.73 L170.02 879.73 L170.28 879.73 L170.53 879.73 L170.78 879.72 L171.04 879.72 L171.29 879.71 L171.55 879.70 L171.80 879.68 L172.05 879.66 L172.31 879.64 L172.56 879.61 L172.81 879.58 L173.07 879.55 L173.32 879.51 L173.57 879.46 L173.83 879.41 L174.08 879.36 L174.34 879.30 L174.59 879.24 L174.84 879.17 L175.10 879.09 L175.35 879.01 L175.61 878.93 L175.86 878.84 L176.11 878.74 L176.37 878.64 L176.62 878.53 L176.87 878.41 L177.13 878.29 L177.38 878.16 L177.63 878.02 L177.89 877.87 L178.14 877.71 L178.40 877.51 L178.65 877.29 L178.90 877.03 L179.16 876.75 L179.41 876.44 L179.67 876.11 L179.92 875.75 L180.17 875.37 L180.43 874.97 L180.68 874.55 L180.93 874.11 L181.19 873.66 L181.44 873.19 L181.69 872.70 L181.95 872.20 L182.20 871.68 L182.46 871.11 L182.71 870.51 L182.96 869.86 L183.22 869.17 L183.47 868.43 L183.73 867.65 L183.98 866.82 L184.23 865.94 L184.49 865.01 L184.74 864.02 L184.99 862.96 L185.25 861.84 L185.50 860.64 L185.75 859.33 L186.01 857.91 L186.26 856.37 L186.52 854.71 L186.77 852.92 L187.02 851.00 L187.28 848.95 L187.53 846.79 L187.78 844.54 L188.04 842.28 L188.29 840.05 L188.55 837.90 L188.80 835.90 L189.05 834.11 L189.31 832.61 L189.56 831.49 L189.81 830.82 L190.07 830.65 L190.32 830.94 L190.58 831.55 L190.83 832.45 L191.08 833.59 L191.34 834.95 L191.59 836.48 L191.84 838.13 L192.10 839.86 L192.35 841.62 L192.61 843.36 L192.86 845.04 L193.11 846.63 L193.37 848.10 L193.62 849.47 L193.88 850.72 L194.13 851.89 L194.38 852.97 L194.64 853.99 L194.89 854.95 L195.14 855.89 L195.40 856.81 L195.65 857.74 L195.91 858.69 L196.16 859.60 L196.41 860.46 L196.67 861.26 L196.92 862.01 L197.17 862.71 L197.43 863.37 L197.68 863.99 L197.94 864.57 L198.19 865.12 L198.44 865.64 L198.70 866.12 L198.95 866.58 L199.20 867.02 L199.46 867.43 L199.71 867.82 L199.97 868.19 L200.22 868.54 L200.47 868.87 L200.73 869.18 L200.98 869.47 L201.23 869.73 L201.49 869.98 L201.74 870.22 L202.00 870.43 L202.25 870.64 L202.50 870.82 L202.76 870.99 L203.01 871.15 L203.26 871.30 L203.52 871.43 L203.77 871.56 L204.03 871.67 L204.28 871.76 L204.53 871.85 L204.79 871.93 L205.04 871.99 L205.29 872.05 L205.55 872.09 L205.80 872.13 L206.06 872.15 L206.31 872.17 L206.56 872.17 L206.82 872.17 L207.07 872.15 L207.32 872.12 L207.58 872.09 L207.83 872.04 L208.09 871.99 L208.34 871.93 L208.59 871.86 L208.85 871.79 L209.10 871.70 L209.35 871.61 L209.61 871.50 L209.86 871.39 L210.11 871.26 L210.37 871.13 L210.62 870.98 L210.88 870.83 L211.13 870.66 L211.38 870.49 L211.64 870.30 L211.89 870.10 L212.14 869.90 L212.40 869.69 L212.65 869.47 L212.91 869.24 L213.16 869.01 L213.41 868.78 L213.67 868.55 L213.92 868.32 L214.17 868.09 L214.43 867.88 L214.68 867.67 L214.94 867.48 L215.19 867.30 L215.44 867.15 L215.70 867.02 L215.95 866.92 L216.20 866.84 L216.46 866.80 L216.71 866.79 L216.97 866.81 L217.22 866.86 L217.47 866.95 L217.73 867.06 L217.98 867.20 L218.23 867.37 L218.49 867.57 L218.74 867.78 L219.00 868.02 L219.25 868.28 L219.50 868.55 L219.76 868.83 L220.01 869.13 L220.27 869.43 L220.52 869.73 L220.77 870.04 L221.03 870.36 L221.28 870.67 L221.53 870.98 L221.79 871.28 L222.04 871.59 L222.30 871.89 L222.55 872.19 L222.80 872.48 L223.06 872.76 L223.31 873.04 L223.56 873.31 L223.82 873.57 L224.07 873.83 L224.33 874.07 L224.58 874.31 L224.83 874.54 L225.09 874.76 L225.34 874.97 L225.59 875.17 L225.85 875.37 L226.10 875.55 L226.36 875.73 L226.61 875.89 L226.86 876.05 L227.12 876.20 L227.37 876.34 L227.62 876.47 L227.88 876.60 L228.13 876.72 L228.39 876.83 L228.64 876.94 L228.89 877.04 L229.15 877.14 L229.40 877.23 L229.65 877.32 L229.91 877.40 L230.16 877.48 L230.42 877.56 L230.67 877.63 L230.92 877.70 L231.18 877.76 L231.43 877.83 L231.68 877.89 L231.94 877.95 L232.19 878.00 L232.45 878.05 L232.70 878.11 L232.95 878.16 L233.21 878.20 L233.46 878.25 L233.71 878.30 L233.97 878.34 L234.22 878.39 L234.48 878.43 L234.73 878.47 L234.98 878.51 L235.24 878.55 L235.49 878.59 L235.74 878.62 L236.00 878.66 L236.25 878.69 L236.50 878.72 L236.76 878.75 L237.01 878.78 L237.27 878.81 L237.52 878.84 L237.77 878.87 L238.03 878.89 L238.28 878.92 L238.53 878.94 L238.79 878.97 L239.04 878.99 L239.30 879.01 L239.55 879.04 L239.80 879.06 L240.06 879.08 L240.31 879.10 L240.56 879.12 L240.82 879.14 L241.07 879.16 L241.33 879.18 L241.58 879.20 L241.83 879.22 L242.09 879.23 L242.34 879.25 L242.59 879.27 L242.85 879.29 L243.10 879.30 L243.36 879.32 L243.61 879.34 L243.86 879.36 L244.12 879.37 L244.37 879.39 L244.62 879.41 L244.88 879.43 L245.13 879.44 L245.39 879.46 L245.64 879.47 L245.89 879.49 L246.15 879.51 L246.40 879.52 L246.66 879.54 L246.91 879.55 L247.16 879.56 L247.42 879.58 L247.67 879.59 L247.92 879.61 L248.18 879.62 L248.43 879.63 L248.69 879.65 L248.94 879.66 L249.19 879.67 L249.45 879.68 L249.70 879.70 L249.95 879.71 L250.21 879.72 L250.46 879.73 L250.72 879.75 L250.97 879.76 L251.22 879.77 L251.48 879.78 L251.73 879.79 L251.98 879.80 L252.24 879.81 L252.49 879.83 L252.75 879.84 L253.00 879.85 L253.25 879.86 L253.51 879.87 L253.76 879.88 L254.01 879.89 L254.27 879.90 L254.52 879.91 L254.78 879.92 L255.03 879.93 L255.28 879.94 L255.54 879.95 L255.79 879.96 L256.04 879.97 L256.30 879.98 L256.55 879.99 L256.81 880.01 L257.06 880.02 L257.31 880.03 L257.57 880.04 L257.82 880.05 L258.07 880.06 L258.33 880.07 L258.58 880.08 L258.84 880.09 L259.09 880.10 L259.34 880.11 L259.60 880.12 L259.85 880.13 L260.10 880.14 L260.36 880.15 L260.61 880.16 L260.87 880.17 L261.12 880.18 L261.37 880.19 L261.63 880.20 L261.88 880.21 L262.13 880.22 L262.39 880.24 L262.64 880.25 L262.89 880.26 L263.15 880.27 L263.40 880.28 L263.66 880.29 L263.91 880.30 L264.16 880.31 L264.42 880.32 L264.67 880.34 L264.92 880.35 L265.18 880.36 L265.43 880.37 L265.69 880.38 L265.94 880.39 L266.19 880.41 L266.45 880.42 L266.70 880.43 L266.95 880.44 L267.21 880.46 L267.46 880.47 L267.72 880.48 L267.97 880.49 L268.22 880.51 L268.48 880.52 L268.73 880.53 L268.99 880.55 L269.24 880.56 L269.49 880.57 L269.75 880.59 L270.00 880.60" stroke="#0000ff" stroke-width="2.15" fill="none" stroke-dasharray="3.2 4.66" stroke-linecap="round" stroke-linejoin="round"/>
</g>
<text x="62.70" y="885.60" text-anchor="end" font-size="14.7">0.0</text>
<text x="62.70" y="847.64" text-anchor="end" font-size="14.7">0.1</text>
<text x="62.70" y="809.68" text-anchor="end" font-size="14.7">0.2</text>
<text x="62.70" y="771.72" text-anchor="end" font-size="14.7">0.3</text>
<text x="62.70" y="733.76" text-anchor="end" font-size="14.7">0.4</text>
<text x="62.70" y="695.80" text-anchor="end" font-size="14.7">0.5</text>
<text x="67.30" y="896.20" text-anchor="middle" font-size="14.7">-1.0</text>
<text x="118.05" y="896.20" text-anchor="middle" font-size="14.7">-0.5</text>
<text x="168.80" y="896.20" text-anchor="middle" font-size="14.7">0.0</text>
<text x="219.55" y="896.20" text-anchor="middle" font-size="14.7">0.5</text>
<text x="270.30" y="896.20" text-anchor="middle" font-size="14.7">1.0</text>
<text transform="translate(153.50 919.40) scale(1.14 1)" font-size="16">ε</text>
<text x="171.60" y="919.40" font-size="16">Δ</text>
<text y="918.70" font-size="17.8"><tspan x="165.50">(</tspan><tspan x="181.20">)</tspan></text>
<path d="M71.60 705.30 H100.40" stroke="#000" stroke-width="2.3" fill="none" stroke-linejoin="round"/><text x="106.80" y="709.50" font-size="12.3">eV<tspan font-size="7.5" dy="5.4" stroke-width="0" fill="#222">g</tspan><tspan dy="-4.7" dx="-0.5" font-size="12.6">=</tspan><tspan dy="-0.7" dx="3.00">-0.50</tspan></text>
<path d="M72.20 725.50 H98.20" stroke="#ff0000" stroke-width="2.15" fill="none" stroke-dasharray="0.01 3.68" stroke-linecap="round" stroke-linejoin="round"/><text x="106.80" y="729.50" font-size="12.3">eV<tspan font-size="7.5" dy="5.4" stroke-width="0" fill="#222">g</tspan><tspan dy="-4.7" dx="-0.5" font-size="12.6">=</tspan><tspan dy="-0.7" dx="6.20">0.01</tspan></text>
<path d="M72.00 745.50 H98.80" stroke="#0000ff" stroke-width="2.15" fill="none" stroke-dasharray="3.2 4.66" stroke-linecap="round" stroke-linejoin="round"/><text x="106.80" y="749.60" font-size="12.3">eV<tspan font-size="7.5" dy="5.4" stroke-width="0" fill="#222">g</tspan><tspan dy="-4.7" dx="-0.5" font-size="12.6">=</tspan><tspan dy="-0.7" dx="6.20">0.48</tspan></text>
<text transform="translate(238.5 722.4) scale(1.06 1)" font-size="20">(b)</text>
<g transform="translate(22.1 796.2) rotate(-90)"><text font-size="17.6">T<tspan font-size="11" dy="7.0" dx="0.3" stroke-width="0.1">12</tspan></text></g>
</svg>
</body></html>
